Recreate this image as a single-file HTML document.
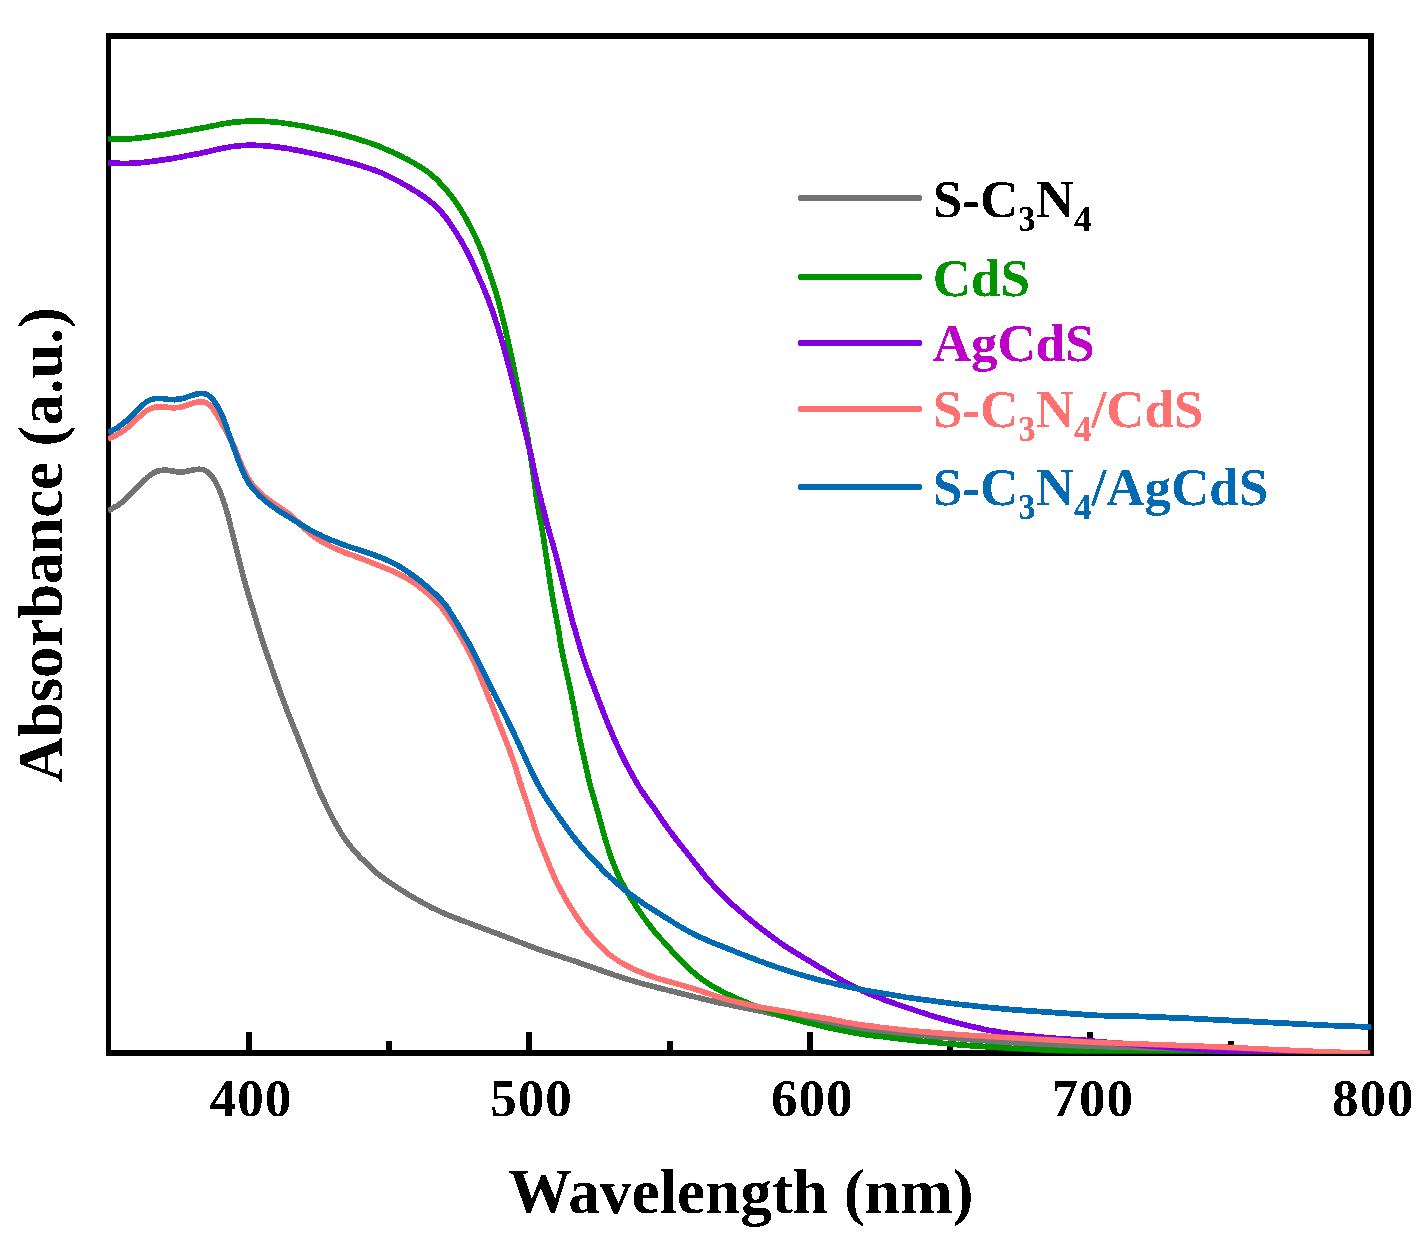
<!DOCTYPE html>
<html><head><meta charset="utf-8"><title>Absorbance</title>
<style>
html,body{margin:0;padding:0;background:#fff;}
body{width:1426px;height:1251px;overflow:hidden;}
svg{display:block;}
text{font-family:"Liberation Serif",serif;font-weight:bold;}
.tl{font-size:53px;letter-spacing:1px;}
.lg{font-size:53px;}
.sub{font-size:35px;}
.ax{font-size:63px;}
</style></head><body>
<svg width="1426" height="1251" viewBox="0 0 1426 1251">
<rect x="0" y="0" width="1426" height="1251" fill="#fff"/>
<defs><clipPath id="pc"><rect x="108" y="36" width="1263.5" height="1017.8"/></clipPath>
<filter id="bin" filterUnits="userSpaceOnUse" x="0" y="0" width="1426" height="1251" color-interpolation-filters="sRGB"><feComponentTransfer><feFuncA type="discrete" tableValues="0 1"/></feComponentTransfer></filter></defs>
<g filter="url(#bin)">
<rect x="106" y="33" width="5" height="1023" fill="#000"/>
<rect x="106" y="33" width="1268" height="6" fill="#000"/>
<rect x="1368" y="33" width="6" height="1023" fill="#000"/>
<rect x="106" y="1050" width="1268" height="6" fill="#000"/>
<rect x="245.8" y="1032" width="6" height="18" fill="#000"/><rect x="526.3" y="1032" width="6" height="18" fill="#000"/><rect x="806.9" y="1032" width="6" height="18" fill="#000"/><rect x="1087.4" y="1032" width="6" height="18" fill="#000"/><rect x="386.1" y="1041" width="6" height="9" fill="#000"/><rect x="666.6" y="1041" width="6" height="9" fill="#000"/><rect x="947.2" y="1041" width="6" height="9" fill="#000"/><rect x="1227.7" y="1041" width="6" height="9" fill="#000"/>
<g clip-path="url(#pc)" fill="none" stroke-width="5.6" stroke-linejoin="round" stroke-linecap="butt">
<path d="M108.0,511.0 C108.4,510.7 109.8,510.0 110.7,509.5 C111.5,509.0 112.4,508.5 113.2,508.0 C114.1,507.5 114.9,507.0 115.8,506.5 C116.6,506.0 117.5,505.5 118.3,504.9 C119.2,504.4 120.0,503.8 120.8,503.2 C121.6,502.6 122.3,501.9 123.0,501.3 C123.8,500.6 124.5,499.9 125.3,499.3 C126.0,498.6 126.7,497.9 127.5,497.2 C128.2,496.5 128.9,495.8 129.6,495.2 C130.4,494.5 131.1,493.8 131.8,493.1 C132.5,492.4 133.2,491.7 133.9,491.0 C134.6,490.3 135.4,489.5 136.1,488.8 C136.8,488.1 137.5,487.4 138.2,486.7 C138.9,486.0 139.6,485.3 140.3,484.6 C141.0,483.9 141.7,483.2 142.4,482.5 C143.1,481.8 143.8,481.1 144.5,480.4 C145.3,479.7 146.0,478.9 146.7,478.3 C147.4,477.6 148.1,476.9 148.9,476.2 C149.6,475.6 150.4,474.9 151.2,474.4 C152.0,473.8 152.8,473.3 153.6,472.8 C154.5,472.3 155.4,471.9 156.3,471.6 C157.2,471.3 158.2,471.0 159.1,470.8 C160.1,470.6 161.0,470.4 162.0,470.3 C163.0,470.3 164.0,470.3 165.0,470.3 C165.9,470.3 166.9,470.4 167.9,470.4 C168.9,470.5 169.9,470.6 170.9,470.7 C171.9,470.9 172.9,471.0 173.9,471.2 C174.8,471.3 175.8,471.5 176.8,471.6 C177.8,471.7 178.8,471.9 179.8,471.9 C180.7,471.9 181.7,471.9 182.7,471.9 C183.7,471.8 184.6,471.6 185.6,471.5 C186.6,471.3 187.5,471.1 188.5,470.9 C189.5,470.7 190.5,470.5 191.5,470.3 C192.4,470.1 193.4,469.9 194.4,469.7 C195.4,469.6 196.4,469.4 197.3,469.4 C198.3,469.3 199.3,469.2 200.2,469.3 C201.2,469.3 202.1,469.4 203.0,469.7 C203.9,469.9 204.8,470.3 205.6,470.7 C206.4,471.1 207.2,471.7 208.0,472.3 C208.7,472.9 209.5,473.5 210.1,474.2 C210.8,474.9 211.4,475.7 212.0,476.5 C212.6,477.3 213.1,478.1 213.7,478.9 C214.2,479.8 214.7,480.6 215.2,481.5 C215.6,482.4 216.1,483.3 216.6,484.1 C217.1,485.0 217.5,485.9 218.0,486.8 C218.4,487.7 218.8,488.6 219.2,489.5 C219.6,490.4 220.0,491.3 220.4,492.3 C220.7,493.2 221.1,494.1 221.4,495.1 C221.7,496.0 222.0,497.0 222.4,497.9 C222.7,498.9 223.0,499.8 223.3,500.8 C223.6,501.7 223.9,502.7 224.3,503.6 C224.6,504.6 224.9,505.5 225.2,506.5 C225.5,507.4 225.8,508.4 226.1,509.3 C226.4,510.3 226.7,511.2 227.0,512.2 C227.3,513.1 227.6,514.1 227.9,515.1 C228.1,516.0 228.4,517.0 228.7,518.0 C228.9,518.9 229.1,519.9 229.4,520.9 C229.6,521.8 229.9,522.8 230.1,523.8 C230.4,524.7 230.6,525.7 230.8,526.7 C231.1,527.7 231.3,528.6 231.6,529.6 C231.8,530.6 232.0,531.5 232.3,532.5 C232.5,533.5 232.8,534.4 233.0,535.4 C233.2,536.4 233.5,537.4 233.7,538.3 C234.0,539.3 234.2,540.3 234.4,541.2 C234.7,542.2 234.9,543.2 235.2,544.2 C235.4,545.1 235.6,546.1 235.9,547.1 C236.1,548.0 236.4,549.0 236.6,550.0 C236.8,551.0 237.1,551.9 237.3,552.9 C237.6,553.9 237.8,554.8 238.1,555.8 C238.3,556.8 238.5,557.7 238.8,558.7 C239.0,559.7 239.3,560.7 239.5,561.6 C239.7,562.6 240.0,563.6 240.2,564.5 C240.5,565.5 240.7,566.5 241.0,567.4 C241.2,568.4 241.4,569.4 241.7,570.4 C241.9,571.3 242.2,572.3 242.4,573.3 C242.7,574.2 242.9,575.2 243.2,576.2 C243.4,577.1 243.7,578.1 243.9,579.1 C244.2,580.0 244.5,581.0 244.7,582.0 C245.0,582.9 245.3,583.9 245.5,584.8 C245.8,585.8 246.1,586.8 246.4,587.7 C246.7,588.7 247.0,589.6 247.2,590.6 C247.5,591.6 247.8,592.5 248.1,593.5 C248.4,594.4 248.7,595.4 249.0,596.4 C249.2,597.3 249.5,598.3 249.8,599.2 C250.1,600.2 250.4,601.1 250.7,602.1 C251.0,603.1 251.3,604.0 251.5,605.0 C251.8,605.9 252.1,606.9 252.4,607.8 C252.7,608.8 253.0,609.8 253.3,610.7 C253.6,611.7 253.8,612.6 254.1,613.6 C254.4,614.5 254.7,615.5 255.0,616.5 C255.3,617.4 255.6,618.4 255.9,619.3 C256.2,620.3 256.4,621.2 256.7,622.2 C257.0,623.2 257.3,624.1 257.6,625.1 C257.9,626.0 258.2,627.0 258.5,627.9 C258.8,628.9 259.1,629.9 259.3,630.8 C259.6,631.8 259.9,632.7 260.2,633.7 C260.5,634.6 260.8,635.6 261.1,636.5 C261.4,637.5 261.7,638.5 262.0,639.4 C262.3,640.4 262.6,641.3 263.0,642.3 C263.3,643.2 263.6,644.2 263.9,645.1 C264.2,646.1 264.5,647.0 264.9,648.0 C265.2,648.9 265.5,649.8 265.8,650.8 C266.1,651.7 266.5,652.7 266.8,653.6 C267.1,654.6 267.5,655.5 267.8,656.5 C268.1,657.4 268.4,658.3 268.8,659.3 C269.1,660.2 269.4,661.2 269.8,662.1 C270.1,663.1 270.4,664.0 270.7,665.0 C271.1,665.9 271.4,666.8 271.7,667.8 C272.1,668.7 272.4,669.7 272.7,670.6 C273.0,671.6 273.4,672.5 273.7,673.5 C274.0,674.4 274.4,675.3 274.7,676.3 C275.0,677.2 275.4,678.2 275.7,679.1 C276.0,680.1 276.3,681.0 276.7,682.0 C277.0,682.9 277.3,683.8 277.7,684.8 C278.0,685.7 278.3,686.7 278.6,687.6 C279.0,688.6 279.3,689.5 279.6,690.5 C280.0,691.4 280.3,692.3 280.6,693.3 C281.0,694.2 281.3,695.2 281.6,696.1 C282.0,697.0 282.3,698.0 282.7,698.9 C283.0,699.9 283.4,700.8 283.7,701.7 C284.1,702.7 284.4,703.6 284.8,704.5 C285.1,705.5 285.5,706.4 285.8,707.3 C286.2,708.3 286.6,709.2 286.9,710.1 C287.3,711.1 287.7,712.0 288.0,712.9 C288.4,713.9 288.8,714.8 289.1,715.7 C289.5,716.6 289.9,717.6 290.3,718.5 C290.6,719.4 291.0,720.4 291.4,721.3 C291.8,722.2 292.1,723.1 292.5,724.1 C292.9,725.0 293.2,725.9 293.6,726.9 C294.0,727.8 294.4,728.7 294.7,729.6 C295.1,730.6 295.5,731.5 295.8,732.4 C296.2,733.4 296.6,734.3 297.0,735.2 C297.3,736.1 297.7,737.1 298.1,738.0 C298.4,738.9 298.8,739.9 299.2,740.8 C299.5,741.7 299.9,742.6 300.3,743.6 C300.7,744.5 301.0,745.4 301.4,746.4 C301.8,747.3 302.1,748.2 302.5,749.1 C302.9,750.1 303.2,751.0 303.6,751.9 C304.0,752.9 304.4,753.8 304.7,754.7 C305.1,755.6 305.5,756.6 305.8,757.5 C306.2,758.4 306.6,759.4 306.9,760.3 C307.3,761.2 307.7,762.1 308.1,763.1 C308.4,764.0 308.8,764.9 309.2,765.9 C309.5,766.8 309.9,767.7 310.3,768.6 C310.7,769.6 311.0,770.5 311.4,771.4 C311.8,772.4 312.2,773.3 312.5,774.2 C312.9,775.1 313.3,776.1 313.6,777.0 C314.0,777.9 314.4,778.9 314.8,779.8 C315.1,780.7 315.5,781.6 315.9,782.6 C316.3,783.5 316.6,784.4 317.0,785.3 C317.4,786.3 317.8,787.2 318.2,788.1 C318.6,789.0 319.0,789.9 319.4,790.9 C319.8,791.8 320.2,792.7 320.6,793.6 C321.0,794.5 321.4,795.4 321.8,796.3 C322.3,797.2 322.7,798.1 323.1,799.0 C323.5,799.9 324.0,800.8 324.4,801.7 C324.9,802.6 325.3,803.5 325.7,804.4 C326.2,805.3 326.6,806.2 327.1,807.1 C327.5,808.0 328.0,808.9 328.4,809.8 C328.9,810.7 329.3,811.6 329.8,812.5 C330.2,813.4 330.7,814.3 331.1,815.2 C331.6,816.0 332.0,816.9 332.5,817.8 C332.9,818.7 333.4,819.6 333.9,820.5 C334.4,821.4 334.8,822.2 335.3,823.1 C335.8,824.0 336.3,824.9 336.8,825.7 C337.3,826.6 337.8,827.5 338.3,828.3 C338.8,829.2 339.3,830.0 339.8,830.9 C340.3,831.8 340.8,832.6 341.4,833.4 C341.9,834.3 342.4,835.1 343.0,836.0 C343.5,836.8 344.1,837.6 344.7,838.4 C345.2,839.3 345.8,840.1 346.4,840.9 C347.0,841.7 347.6,842.5 348.2,843.3 C348.8,844.1 349.4,844.9 350.0,845.7 C350.6,846.4 351.3,847.2 351.9,848.0 C352.5,848.8 353.2,849.5 353.8,850.3 C354.5,851.0 355.1,851.8 355.8,852.5 C356.4,853.3 357.1,854.0 357.8,854.7 C358.5,855.5 359.2,856.2 359.9,856.9 C360.6,857.6 361.3,858.3 362.0,859.0 C362.7,859.7 363.4,860.4 364.1,861.1 C364.8,861.8 365.5,862.5 366.3,863.2 C367.0,863.9 367.7,864.6 368.4,865.3 C369.2,866.0 369.9,866.7 370.6,867.4 C371.3,868.0 372.1,868.7 372.8,869.4 C373.6,870.1 374.3,870.7 375.0,871.4 C375.8,872.0 376.5,872.7 377.3,873.3 C378.1,874.0 378.8,874.6 379.6,875.2 C380.4,875.9 381.2,876.5 382.0,877.1 C382.8,877.7 383.6,878.3 384.4,878.9 C385.2,879.5 386.0,880.0 386.8,880.6 C387.6,881.2 388.5,881.7 389.3,882.3 C390.1,882.8 390.9,883.4 391.8,883.9 C392.6,884.5 393.4,885.0 394.3,885.6 C395.1,886.1 396.0,886.7 396.8,887.2 C397.6,887.7 398.5,888.3 399.3,888.8 C400.2,889.4 401.0,889.9 401.9,890.4 C402.7,890.9 403.6,891.5 404.4,892.0 C405.3,892.5 406.1,893.0 407.0,893.6 C407.8,894.1 408.7,894.6 409.5,895.1 C410.4,895.6 411.3,896.2 412.1,896.7 C413.0,897.2 413.8,897.7 414.7,898.2 C415.6,898.7 416.4,899.2 417.3,899.7 C418.1,900.2 419.0,900.7 419.9,901.2 C420.8,901.7 421.6,902.2 422.5,902.7 C423.4,903.1 424.3,903.6 425.1,904.1 C426.0,904.6 426.9,905.0 427.8,905.5 C428.7,905.9 429.6,906.4 430.5,906.8 C431.3,907.3 432.2,907.7 433.1,908.2 C434.0,908.6 434.9,909.1 435.8,909.5 C436.7,909.9 437.6,910.3 438.6,910.8 C439.5,911.2 440.4,911.6 441.3,912.0 C442.2,912.4 443.1,912.9 444.0,913.3 C444.9,913.7 445.8,914.1 446.8,914.5 C447.7,914.9 448.6,915.2 449.5,915.6 C450.4,916.0 451.4,916.4 452.3,916.7 C453.2,917.1 454.2,917.5 455.1,917.8 C456.0,918.2 456.9,918.6 457.9,918.9 C458.8,919.3 459.7,919.6 460.7,920.0 C461.6,920.3 462.6,920.7 463.5,921.0 C464.4,921.4 465.4,921.7 466.3,922.1 C467.2,922.4 468.2,922.8 469.1,923.1 C470.0,923.5 471.0,923.8 471.9,924.2 C472.9,924.5 473.8,924.9 474.7,925.3 C475.7,925.6 476.6,926.0 477.5,926.3 C478.5,926.7 479.4,927.0 480.3,927.4 C481.3,927.7 482.2,928.1 483.2,928.4 C484.1,928.8 485.0,929.1 486.0,929.5 C486.9,929.8 487.8,930.2 488.8,930.5 C489.7,930.9 490.6,931.2 491.6,931.6 C492.5,931.9 493.5,932.3 494.4,932.6 C495.3,933.0 496.3,933.3 497.2,933.7 C498.1,934.0 499.1,934.4 500.0,934.7 C500.9,935.1 501.9,935.4 502.8,935.8 C503.8,936.1 504.7,936.5 505.6,936.8 C506.6,937.2 507.5,937.5 508.4,937.9 C509.4,938.3 510.3,938.6 511.2,939.0 C512.2,939.3 513.1,939.7 514.0,940.0 C515.0,940.4 515.9,940.7 516.8,941.1 C517.8,941.5 518.7,941.8 519.6,942.2 C520.6,942.5 521.5,942.9 522.4,943.3 C523.4,943.6 524.3,944.0 525.2,944.3 C526.2,944.7 527.1,945.1 528.0,945.4 C529.0,945.8 529.9,946.1 530.8,946.5 C531.8,946.8 532.7,947.2 533.7,947.5 C534.6,947.9 535.5,948.2 536.5,948.6 C537.4,948.9 538.3,949.3 539.3,949.6 C540.2,949.9 541.2,950.2 542.1,950.6 C543.1,950.9 544.0,951.2 545.0,951.5 C545.9,951.8 546.9,952.2 547.8,952.5 C548.8,952.8 549.7,953.1 550.7,953.4 C551.6,953.7 552.6,954.0 553.5,954.3 C554.5,954.6 555.4,954.9 556.4,955.2 C557.3,955.5 558.3,955.8 559.2,956.1 C560.2,956.4 561.1,956.8 562.1,957.1 C563.0,957.4 564.0,957.7 564.9,958.0 C565.9,958.3 566.8,958.6 567.8,958.9 C568.7,959.2 569.7,959.5 570.6,959.8 C571.6,960.2 572.5,960.5 573.5,960.8 C574.4,961.1 575.4,961.4 576.3,961.8 C577.3,962.1 578.2,962.4 579.2,962.7 C580.1,963.1 581.1,963.4 582.0,963.7 C583.0,964.0 583.9,964.4 584.8,964.7 C585.8,965.0 586.7,965.4 587.7,965.7 C588.6,966.0 589.6,966.3 590.5,966.7 C591.4,967.0 592.4,967.3 593.3,967.7 C594.3,968.0 595.2,968.3 596.2,968.7 C597.1,969.0 598.1,969.3 599.0,969.6 C599.9,970.0 600.9,970.3 601.8,970.6 C602.8,971.0 603.7,971.3 604.7,971.6 C605.6,972.0 606.6,972.3 607.5,972.6 C608.4,972.9 609.4,973.3 610.3,973.6 C611.3,973.9 612.2,974.2 613.2,974.6 C614.1,974.9 615.1,975.2 616.0,975.5 C617.0,975.8 617.9,976.2 618.9,976.5 C619.8,976.8 620.8,977.1 621.7,977.4 C622.7,977.7 623.6,978.0 624.6,978.3 C625.5,978.6 626.5,978.9 627.4,979.2 C628.4,979.5 629.3,979.8 630.3,980.1 C631.3,980.4 632.2,980.6 633.2,980.9 C634.1,981.2 635.1,981.5 636.1,981.8 C637.0,982.1 638.0,982.3 638.9,982.6 C639.9,982.9 640.9,983.2 641.8,983.4 C642.8,983.7 643.7,984.0 644.7,984.2 C645.7,984.5 646.6,984.8 647.6,985.0 C648.6,985.3 649.5,985.5 650.5,985.8 C651.5,986.0 652.4,986.3 653.4,986.5 C654.4,986.8 655.3,987.0 656.3,987.3 C657.3,987.5 658.3,987.8 659.2,988.0 C660.2,988.2 661.2,988.5 662.1,988.7 C663.1,989.0 664.1,989.2 665.0,989.5 C666.0,989.7 667.0,989.9 668.0,990.2 C668.9,990.4 669.9,990.7 670.9,990.9 C671.8,991.2 672.8,991.4 673.8,991.6 C674.7,991.9 675.7,992.1 676.7,992.4 C677.7,992.6 678.6,992.9 679.6,993.1 C680.6,993.3 681.5,993.6 682.5,993.8 C683.5,994.1 684.4,994.3 685.4,994.6 C686.4,994.8 687.4,995.0 688.3,995.3 C689.3,995.5 690.3,995.8 691.2,996.0 C692.2,996.3 693.2,996.5 694.2,996.7 C695.1,997.0 696.1,997.2 697.1,997.5 C698.0,997.7 699.0,997.9 700.0,998.2 C700.9,998.4 701.9,998.7 702.9,998.9 C703.9,999.2 704.8,999.4 705.8,999.6 C706.8,999.9 707.7,1000.1 708.7,1000.3 C709.7,1000.6 710.7,1000.8 711.6,1001.0 C712.6,1001.3 713.6,1001.5 714.5,1001.7 C715.5,1001.9 716.5,1002.2 717.5,1002.4 C718.5,1002.6 719.4,1002.8 720.4,1003.0 C721.4,1003.2 722.4,1003.4 723.3,1003.6 C724.3,1003.8 725.3,1004.0 726.3,1004.2 C727.3,1004.4 728.2,1004.6 729.2,1004.8 C730.2,1005.0 731.2,1005.2 732.2,1005.4 C733.1,1005.6 734.1,1005.8 735.1,1006.0 C736.1,1006.2 737.1,1006.4 738.0,1006.6 C739.0,1006.8 740.0,1007.0 741.0,1007.2 C742.0,1007.4 743.0,1007.5 743.9,1007.7 C744.9,1007.9 745.9,1008.1 746.9,1008.3 C747.9,1008.5 748.8,1008.7 749.8,1008.9 C750.8,1009.1 751.8,1009.3 752.8,1009.5 C753.7,1009.7 754.7,1009.9 755.7,1010.1 C756.7,1010.3 757.7,1010.5 758.6,1010.7 C759.6,1010.9 760.6,1011.1 761.6,1011.3 C762.5,1011.5 763.5,1011.8 764.5,1012.0 C765.5,1012.2 766.4,1012.4 767.4,1012.7 C768.4,1012.9 769.4,1013.1 770.3,1013.4 C771.3,1013.6 772.3,1013.8 773.3,1014.1 C774.2,1014.3 775.2,1014.5 776.2,1014.7 C777.1,1015.0 778.1,1015.2 779.1,1015.4 C780.1,1015.6 781.0,1015.9 782.0,1016.1 C783.0,1016.3 784.0,1016.5 785.0,1016.7 C785.9,1016.9 786.9,1017.1 787.9,1017.3 C788.9,1017.5 789.9,1017.7 790.8,1017.9 C791.8,1018.0 792.8,1018.2 793.8,1018.4 C794.8,1018.6 795.8,1018.8 796.7,1018.9 C797.7,1019.1 798.7,1019.3 799.7,1019.5 C800.7,1019.6 801.7,1019.8 802.6,1020.0 C803.6,1020.2 804.6,1020.3 805.6,1020.5 C806.6,1020.7 807.6,1020.8 808.6,1021.0 C809.5,1021.2 810.5,1021.4 811.5,1021.5 C812.5,1021.7 813.5,1021.9 814.5,1022.0 C815.5,1022.2 816.4,1022.4 817.4,1022.5 C818.4,1022.7 819.4,1022.9 820.4,1023.0 C821.4,1023.2 822.4,1023.4 823.3,1023.5 C824.3,1023.7 825.3,1023.9 826.3,1024.0 C827.3,1024.2 828.3,1024.4 829.3,1024.5 C830.2,1024.7 831.2,1024.8 832.2,1025.0 C833.2,1025.1 834.2,1025.3 835.2,1025.4 C836.2,1025.6 837.2,1025.7 838.2,1025.9 C839.1,1026.0 840.1,1026.2 841.1,1026.3 C842.1,1026.4 843.1,1026.6 844.1,1026.7 C845.1,1026.9 846.1,1027.0 847.1,1027.1 C848.1,1027.3 849.0,1027.4 850.0,1027.6 C851.0,1027.7 852.0,1027.8 853.0,1028.0 C854.0,1028.1 855.0,1028.2 856.0,1028.4 C857.0,1028.5 858.0,1028.6 859.0,1028.7 C859.9,1028.9 860.9,1029.0 861.9,1029.1 C862.9,1029.2 863.9,1029.3 864.9,1029.4 C865.9,1029.6 866.9,1029.7 867.9,1029.8 C868.9,1029.9 869.9,1030.0 870.9,1030.1 C871.9,1030.2 872.9,1030.3 873.9,1030.4 C874.9,1030.5 875.9,1030.6 876.8,1030.7 C877.8,1030.8 878.8,1030.9 879.8,1031.0 C880.8,1031.1 881.8,1031.2 882.8,1031.3 C883.8,1031.4 884.8,1031.5 885.8,1031.6 C886.8,1031.7 887.8,1031.8 888.8,1031.9 C889.8,1032.0 890.8,1032.1 891.8,1032.2 C892.8,1032.3 893.8,1032.4 894.8,1032.5 C895.8,1032.6 896.7,1032.7 897.7,1032.8 C898.7,1032.9 899.7,1033.0 900.7,1033.1 C901.7,1033.2 902.7,1033.3 903.7,1033.4 C904.7,1033.5 905.7,1033.6 906.7,1033.7 C907.7,1033.8 908.7,1033.9 909.7,1034.0 C910.7,1034.1 911.7,1034.2 912.7,1034.3 C913.7,1034.4 914.7,1034.5 915.7,1034.6 C916.7,1034.7 917.6,1034.8 918.6,1034.9 C919.6,1034.9 920.6,1035.0 921.6,1035.1 C922.6,1035.2 923.6,1035.3 924.6,1035.4 C925.6,1035.5 926.6,1035.6 927.6,1035.7 C928.6,1035.8 929.6,1035.9 930.6,1036.0 C931.6,1036.1 932.6,1036.2 933.6,1036.2 C934.6,1036.3 935.6,1036.4 936.6,1036.5 C937.6,1036.6 938.6,1036.7 939.6,1036.8 C940.5,1036.9 941.5,1037.0 942.5,1037.1 C943.5,1037.2 944.5,1037.3 945.5,1037.4 C946.5,1037.5 947.5,1037.5 948.5,1037.6 C949.5,1037.7 950.5,1037.8 951.5,1037.9 C952.5,1038.0 953.5,1038.1 954.5,1038.2 C955.5,1038.3 956.5,1038.4 957.5,1038.4 C958.5,1038.5 959.5,1038.6 960.5,1038.7 C961.5,1038.8 962.5,1038.9 963.5,1038.9 C964.5,1039.0 965.4,1039.1 966.4,1039.2 C967.4,1039.3 968.4,1039.3 969.4,1039.4 C970.4,1039.5 971.4,1039.6 972.4,1039.6 C973.4,1039.7 974.4,1039.8 975.4,1039.9 C976.4,1039.9 977.4,1040.0 978.4,1040.1 C979.4,1040.1 980.4,1040.2 981.4,1040.3 C982.4,1040.4 983.4,1040.4 984.4,1040.5 C985.4,1040.6 986.4,1040.7 987.4,1040.7 C988.4,1040.8 989.4,1040.9 990.4,1041.0 C991.4,1041.0 992.4,1041.1 993.4,1041.2 C994.4,1041.2 995.4,1041.3 996.4,1041.4 C997.4,1041.5 998.4,1041.5 999.4,1041.6 C1000.4,1041.7 1001.4,1041.7 1002.3,1041.8 C1003.3,1041.9 1004.3,1042.0 1005.3,1042.0 C1006.3,1042.1 1007.3,1042.2 1008.3,1042.2 C1009.3,1042.3 1010.3,1042.4 1011.3,1042.4 C1012.3,1042.5 1013.3,1042.5 1014.3,1042.6 C1015.3,1042.7 1016.3,1042.7 1017.3,1042.8 C1018.3,1042.8 1019.3,1042.9 1020.3,1042.9 C1021.3,1043.0 1022.3,1043.0 1023.3,1043.1 C1024.3,1043.1 1025.3,1043.2 1026.3,1043.2 C1027.3,1043.3 1028.3,1043.3 1029.3,1043.4 C1030.3,1043.4 1031.3,1043.5 1032.3,1043.5 C1033.3,1043.6 1034.3,1043.6 1035.3,1043.7 C1036.3,1043.7 1037.3,1043.8 1038.3,1043.8 C1039.3,1043.9 1040.3,1043.9 1041.3,1044.0 C1042.3,1044.0 1043.3,1044.1 1044.3,1044.1 C1045.3,1044.2 1046.3,1044.2 1047.3,1044.3 C1048.3,1044.3 1049.3,1044.4 1050.3,1044.4 C1051.3,1044.5 1052.3,1044.5 1053.3,1044.6 C1054.3,1044.6 1055.3,1044.7 1056.3,1044.7 C1057.3,1044.8 1058.3,1044.8 1059.3,1044.9 C1060.3,1044.9 1061.3,1045.0 1062.3,1045.0 C1063.3,1045.0 1064.3,1045.1 1065.3,1045.1 C1066.3,1045.2 1067.3,1045.2 1068.3,1045.3 C1069.3,1045.3 1070.3,1045.4 1071.3,1045.4 C1072.2,1045.5 1073.2,1045.5 1074.2,1045.6 C1075.2,1045.6 1076.2,1045.7 1077.2,1045.7 C1078.2,1045.7 1079.2,1045.8 1080.2,1045.8 C1081.2,1045.9 1082.2,1045.9 1083.2,1046.0 C1084.2,1046.0 1085.2,1046.1 1086.2,1046.1 C1087.2,1046.2 1088.2,1046.2 1089.2,1046.2 C1090.2,1046.3 1091.2,1046.3 1092.2,1046.4 C1093.2,1046.4 1094.2,1046.5 1095.2,1046.5 C1096.2,1046.6 1097.2,1046.6 1098.2,1046.6 C1099.2,1046.7 1100.2,1046.7 1101.2,1046.8 C1102.2,1046.8 1103.2,1046.8 1104.2,1046.9 C1105.2,1046.9 1106.2,1047.0 1107.2,1047.0 C1108.2,1047.0 1109.2,1047.1 1110.2,1047.1 C1111.2,1047.1 1112.2,1047.2 1113.2,1047.2 C1114.2,1047.2 1115.2,1047.3 1116.2,1047.3 C1117.2,1047.4 1118.2,1047.4 1119.2,1047.4 C1120.2,1047.5 1121.2,1047.5 1122.2,1047.5 C1123.2,1047.6 1124.2,1047.6 1125.2,1047.6 C1126.2,1047.7 1127.2,1047.7 1128.2,1047.7 C1129.2,1047.8 1130.2,1047.8 1131.2,1047.9 C1132.2,1047.9 1133.2,1047.9 1134.2,1048.0 C1135.2,1048.0 1136.2,1048.0 1137.2,1048.1 C1138.2,1048.1 1139.2,1048.1 1140.2,1048.2 C1141.2,1048.2 1142.2,1048.2 1143.2,1048.2 C1144.2,1048.3 1145.2,1048.3 1146.2,1048.3 C1147.2,1048.4 1148.2,1048.4 1149.2,1048.4 C1150.2,1048.5 1151.2,1048.5 1152.2,1048.5 C1153.2,1048.6 1154.2,1048.6 1155.2,1048.6 C1156.2,1048.7 1157.2,1048.7 1158.2,1048.7 C1159.2,1048.7 1160.2,1048.8 1161.2,1048.8 C1162.2,1048.8 1163.2,1048.9 1164.2,1048.9 C1165.2,1048.9 1166.2,1049.0 1167.2,1049.0 C1168.2,1049.0 1169.2,1049.1 1170.2,1049.1 C1171.2,1049.1 1172.2,1049.1 1173.2,1049.2 C1174.2,1049.2 1175.2,1049.2 1176.2,1049.3 C1177.2,1049.3 1178.2,1049.3 1179.2,1049.4 C1180.2,1049.4 1181.2,1049.4 1182.2,1049.5 C1183.2,1049.5 1184.2,1049.5 1185.2,1049.5 C1186.2,1049.6 1187.2,1049.6 1188.2,1049.6 C1189.2,1049.7 1190.2,1049.7 1191.2,1049.7 C1192.2,1049.8 1193.2,1049.8 1194.2,1049.8 C1195.2,1049.8 1196.2,1049.9 1197.2,1049.9 C1198.2,1049.9 1199.2,1050.0 1200.2,1050.0 C1201.2,1050.0 1202.2,1050.0 1203.2,1050.1 C1204.2,1050.1 1205.2,1050.1 1206.2,1050.1 C1207.2,1050.2 1208.2,1050.2 1209.2,1050.2 C1210.2,1050.2 1211.2,1050.3 1212.2,1050.3 C1213.2,1050.3 1214.2,1050.3 1215.2,1050.4 C1216.2,1050.4 1217.2,1050.4 1218.2,1050.4 C1219.2,1050.4 1220.2,1050.5 1221.2,1050.5 C1222.2,1050.5 1223.2,1050.5 1224.2,1050.6 C1225.2,1050.6 1226.2,1050.6 1227.2,1050.6 C1228.2,1050.7 1229.2,1050.7 1230.2,1050.7 C1231.2,1050.7 1232.2,1050.8 1233.2,1050.8 C1234.2,1050.8 1235.2,1050.8 1236.2,1050.8 C1237.2,1050.9 1238.2,1050.9 1239.2,1050.9 C1240.2,1050.9 1241.2,1051.0 1242.2,1051.0 C1243.2,1051.0 1244.2,1051.0 1245.2,1051.1 C1246.2,1051.1 1247.2,1051.1 1248.2,1051.1 C1249.2,1051.1 1250.2,1051.2 1251.2,1051.2 C1252.2,1051.2 1253.2,1051.2 1254.2,1051.3 C1255.2,1051.3 1256.2,1051.3 1257.2,1051.3 C1258.2,1051.4 1259.2,1051.4 1260.2,1051.4 C1261.2,1051.4 1262.2,1051.5 1263.1,1051.5 C1264.1,1051.5 1265.1,1051.5 1266.1,1051.5 C1267.1,1051.6 1268.1,1051.6 1269.1,1051.6 C1270.1,1051.6 1271.1,1051.7 1272.1,1051.7 C1273.1,1051.7 1274.1,1051.7 1275.1,1051.8 C1276.1,1051.8 1277.1,1051.8 1278.1,1051.8 C1279.1,1051.9 1280.1,1051.9 1281.1,1051.9 C1282.1,1051.9 1283.1,1051.9 1284.1,1052.0 C1285.1,1052.0 1286.1,1052.0 1287.1,1052.0 C1288.1,1052.1 1289.1,1052.1 1290.1,1052.1 C1291.1,1052.1 1292.1,1052.2 1293.1,1052.2 C1294.1,1052.2 1295.1,1052.2 1296.1,1052.2 C1297.1,1052.3 1298.1,1052.3 1299.1,1052.3 C1300.1,1052.3 1301.1,1052.4 1302.1,1052.4 C1303.1,1052.4 1304.1,1052.4 1305.1,1052.5 C1306.1,1052.5 1307.1,1052.5 1308.1,1052.5 C1309.1,1052.6 1310.1,1052.6 1311.1,1052.6 C1312.1,1052.6 1313.1,1052.6 1314.1,1052.7 C1315.1,1052.7 1316.1,1052.7 1317.1,1052.7 C1318.1,1052.8 1319.1,1052.8 1320.1,1052.8 C1321.1,1052.8 1322.1,1052.9 1323.1,1052.9 C1324.1,1052.9 1325.1,1052.9 1326.1,1053.0 C1327.1,1053.0 1328.1,1053.0 1329.1,1053.0 C1330.1,1053.0 1331.1,1053.1 1332.1,1053.1 C1333.1,1053.1 1334.1,1053.1 1335.1,1053.2 C1336.1,1053.2 1337.1,1053.2 1338.1,1053.2 C1339.1,1053.3 1340.1,1053.3 1341.1,1053.3 C1342.1,1053.3 1343.1,1053.3 1344.1,1053.4 C1345.1,1053.4 1346.1,1053.4 1347.1,1053.4 C1348.1,1053.5 1349.1,1053.5 1350.1,1053.5 C1351.1,1053.5 1352.1,1053.6 1353.1,1053.6 C1354.1,1053.6 1355.1,1053.6 1356.0,1053.7 C1357.0,1053.7 1358.0,1053.7 1359.0,1053.7 C1360.0,1053.7 1360.9,1053.8 1361.9,1053.8 C1362.9,1053.8 1363.8,1053.8 1364.9,1053.9 C1365.9,1053.9 1367.1,1053.9 1367.9,1053.9 C1368.8,1053.9 1369.8,1054.0 1370.1,1054.0" stroke="#737373"/>
<path d="M108.0,139.0 C108.5,139.0 110.2,139.1 111.2,139.1 C112.3,139.1 113.3,139.1 114.3,139.1 C115.3,139.2 116.2,139.2 117.2,139.2 C118.2,139.2 119.1,139.2 120.1,139.2 C121.1,139.2 122.1,139.1 123.0,139.1 C124.0,139.0 125.0,139.0 126.0,138.9 C127.0,138.9 128.0,138.8 129.0,138.8 C130.0,138.7 131.0,138.6 132.0,138.6 C133.0,138.5 134.0,138.4 135.0,138.3 C136.0,138.3 136.9,138.2 137.9,138.1 C138.9,138.0 139.9,137.9 140.9,137.8 C141.9,137.6 142.9,137.5 143.9,137.4 C144.9,137.3 145.9,137.2 146.9,137.0 C147.9,136.9 148.9,136.8 149.9,136.6 C150.8,136.5 151.8,136.4 152.8,136.2 C153.8,136.1 154.8,135.9 155.8,135.8 C156.8,135.7 157.8,135.5 158.8,135.4 C159.7,135.2 160.7,135.1 161.7,134.9 C162.7,134.8 163.7,134.6 164.7,134.5 C165.7,134.3 166.7,134.2 167.7,134.0 C168.6,133.8 169.6,133.7 170.6,133.5 C171.6,133.4 172.6,133.2 173.6,133.0 C174.6,132.9 175.5,132.7 176.5,132.5 C177.5,132.4 178.5,132.2 179.5,132.0 C180.5,131.9 181.5,131.7 182.4,131.5 C183.4,131.3 184.4,131.2 185.4,131.0 C186.4,130.8 187.4,130.6 188.4,130.5 C189.3,130.3 190.3,130.1 191.3,130.0 C192.3,129.8 193.3,129.6 194.3,129.4 C195.2,129.2 196.2,129.1 197.2,128.9 C198.2,128.7 199.2,128.5 200.2,128.4 C201.1,128.2 202.1,128.0 203.1,127.8 C204.1,127.6 205.1,127.4 206.1,127.2 C207.0,127.1 208.0,126.9 209.0,126.7 C210.0,126.5 211.0,126.3 211.9,126.1 C212.9,125.9 213.9,125.7 214.9,125.5 C215.9,125.3 216.8,125.1 217.8,124.9 C218.8,124.7 219.8,124.5 220.8,124.3 C221.7,124.1 222.7,123.9 223.7,123.7 C224.7,123.6 225.7,123.4 226.7,123.2 C227.6,123.1 228.6,122.9 229.6,122.8 C230.6,122.6 231.6,122.5 232.6,122.4 C233.6,122.3 234.6,122.2 235.5,122.1 C236.5,122.0 237.5,121.9 238.5,121.8 C239.5,121.7 240.5,121.7 241.5,121.6 C242.5,121.5 243.5,121.5 244.5,121.4 C245.5,121.4 246.5,121.3 247.5,121.3 C248.5,121.3 249.5,121.3 250.5,121.2 C251.5,121.2 252.5,121.2 253.5,121.2 C254.5,121.2 255.5,121.2 256.5,121.2 C257.5,121.2 258.5,121.2 259.5,121.2 C260.5,121.2 261.5,121.2 262.5,121.3 C263.5,121.3 264.5,121.3 265.5,121.4 C266.5,121.4 267.5,121.5 268.5,121.5 C269.5,121.6 270.5,121.6 271.5,121.7 C272.5,121.8 273.5,121.8 274.5,121.9 C275.5,122.0 276.4,122.1 277.4,122.2 C278.4,122.3 279.4,122.4 280.4,122.6 C281.4,122.7 282.4,122.8 283.4,122.9 C284.4,123.1 285.4,123.2 286.4,123.4 C287.3,123.5 288.3,123.6 289.3,123.8 C290.3,123.9 291.3,124.1 292.3,124.3 C293.3,124.4 294.3,124.6 295.2,124.7 C296.2,124.9 297.2,125.1 298.2,125.3 C299.2,125.4 300.2,125.6 301.2,125.8 C302.1,126.0 303.1,126.2 304.1,126.3 C305.1,126.5 306.1,126.7 307.0,126.9 C308.0,127.1 309.0,127.3 310.0,127.5 C311.0,127.7 311.9,127.9 312.9,128.1 C313.9,128.3 314.9,128.5 315.9,128.7 C316.8,128.9 317.8,129.1 318.8,129.3 C319.8,129.6 320.8,129.8 321.7,130.0 C322.7,130.2 323.7,130.4 324.7,130.6 C325.6,130.8 326.6,131.0 327.6,131.2 C328.6,131.4 329.6,131.6 330.5,131.8 C331.5,132.1 332.5,132.3 333.5,132.5 C334.4,132.7 335.4,132.9 336.4,133.2 C337.4,133.4 338.3,133.6 339.3,133.9 C340.3,134.1 341.2,134.3 342.2,134.6 C343.2,134.8 344.1,135.1 345.1,135.3 C346.1,135.6 347.0,135.9 348.0,136.1 C349.0,136.4 349.9,136.7 350.9,137.0 C351.8,137.2 352.8,137.5 353.8,137.8 C354.7,138.1 355.7,138.4 356.6,138.7 C357.6,138.9 358.5,139.2 359.5,139.5 C360.5,139.8 361.4,140.1 362.4,140.5 C363.3,140.8 364.3,141.1 365.2,141.4 C366.2,141.7 367.1,142.0 368.0,142.4 C369.0,142.7 369.9,143.0 370.9,143.4 C371.8,143.7 372.8,144.0 373.7,144.4 C374.6,144.7 375.6,145.1 376.5,145.4 C377.4,145.8 378.4,146.1 379.3,146.5 C380.2,146.9 381.1,147.3 382.1,147.6 C383.0,148.0 383.9,148.4 384.8,148.8 C385.8,149.2 386.7,149.6 387.6,150.0 C388.5,150.4 389.4,150.8 390.3,151.2 C391.2,151.6 392.2,152.0 393.1,152.4 C394.0,152.9 394.9,153.3 395.8,153.7 C396.7,154.1 397.6,154.6 398.5,155.0 C399.4,155.4 400.3,155.9 401.2,156.3 C402.1,156.8 403.0,157.2 403.9,157.7 C404.7,158.1 405.6,158.6 406.5,159.0 C407.4,159.5 408.3,160.0 409.2,160.5 C410.0,160.9 410.9,161.4 411.8,161.9 C412.7,162.4 413.5,162.9 414.4,163.4 C415.2,163.9 416.1,164.4 417.0,164.9 C417.8,165.4 418.7,165.9 419.5,166.5 C420.4,167.0 421.2,167.5 422.0,168.1 C422.9,168.6 423.7,169.2 424.5,169.7 C425.4,170.3 426.2,170.9 427.0,171.5 C427.8,172.0 428.6,172.6 429.4,173.2 C430.1,173.9 430.9,174.5 431.7,175.1 C432.4,175.8 433.2,176.4 433.9,177.1 C434.7,177.7 435.4,178.4 436.1,179.1 C436.8,179.8 437.5,180.5 438.3,181.2 C439.0,181.9 439.6,182.6 440.3,183.3 C441.0,184.1 441.7,184.8 442.4,185.5 C443.1,186.3 443.7,187.0 444.4,187.7 C445.1,188.5 445.7,189.2 446.4,190.0 C447.0,190.8 447.7,191.5 448.3,192.3 C448.9,193.1 449.6,193.8 450.2,194.6 C450.8,195.4 451.4,196.2 452.0,197.0 C452.6,197.8 453.2,198.6 453.8,199.4 C454.4,200.2 455.0,201.0 455.5,201.8 C456.1,202.6 456.7,203.5 457.2,204.3 C457.8,205.1 458.3,206.0 458.9,206.8 C459.4,207.7 459.9,208.5 460.5,209.3 C461.0,210.2 461.5,211.0 462.0,211.9 C462.5,212.8 463.0,213.6 463.6,214.5 C464.1,215.3 464.6,216.2 465.1,217.1 C465.6,217.9 466.0,218.8 466.5,219.7 C467.0,220.5 467.5,221.4 468.0,222.3 C468.5,223.2 468.9,224.1 469.4,224.9 C469.9,225.8 470.3,226.7 470.8,227.6 C471.2,228.5 471.7,229.4 472.2,230.3 C472.6,231.2 473.0,232.1 473.5,233.0 C473.9,233.9 474.4,234.8 474.8,235.7 C475.2,236.6 475.7,237.5 476.1,238.4 C476.5,239.3 476.9,240.2 477.3,241.1 C477.8,242.0 478.2,242.9 478.6,243.8 C479.0,244.7 479.4,245.7 479.7,246.6 C480.1,247.5 480.5,248.4 480.9,249.3 C481.3,250.3 481.6,251.2 482.0,252.1 C482.4,253.1 482.7,254.0 483.1,254.9 C483.4,255.9 483.8,256.8 484.1,257.7 C484.5,258.7 484.8,259.6 485.2,260.5 C485.5,261.5 485.9,262.4 486.2,263.4 C486.5,264.3 486.9,265.3 487.2,266.2 C487.5,267.1 487.9,268.1 488.2,269.0 C488.5,270.0 488.9,270.9 489.2,271.9 C489.5,272.8 489.8,273.8 490.2,274.7 C490.5,275.6 490.8,276.6 491.1,277.5 C491.4,278.5 491.7,279.4 492.1,280.4 C492.4,281.3 492.7,282.3 493.0,283.2 C493.3,284.2 493.6,285.1 493.9,286.1 C494.2,287.0 494.5,288.0 494.8,288.9 C495.1,289.9 495.4,290.9 495.7,291.8 C496.0,292.8 496.3,293.7 496.5,294.7 C496.8,295.7 497.1,296.6 497.4,297.6 C497.6,298.5 497.9,299.5 498.2,300.5 C498.4,301.4 498.7,302.4 499.0,303.4 C499.2,304.3 499.5,305.3 499.7,306.3 C500.0,307.2 500.2,308.2 500.5,309.2 C500.7,310.1 501.0,311.1 501.2,312.1 C501.5,313.0 501.7,314.0 502.0,315.0 C502.2,315.9 502.5,316.9 502.7,317.9 C502.9,318.9 503.2,319.8 503.4,320.8 C503.6,321.8 503.9,322.7 504.1,323.7 C504.3,324.7 504.6,325.7 504.8,326.6 C505.0,327.6 505.2,328.6 505.5,329.6 C505.7,330.5 505.9,331.5 506.1,332.5 C506.4,333.5 506.6,334.4 506.8,335.4 C507.0,336.4 507.2,337.4 507.5,338.3 C507.7,339.3 507.9,340.3 508.1,341.3 C508.3,342.2 508.5,343.2 508.8,344.2 C509.0,345.2 509.2,346.1 509.4,347.1 C509.6,348.1 509.8,349.1 510.0,350.1 C510.3,351.0 510.5,352.0 510.7,353.0 C510.9,354.0 511.1,354.9 511.3,355.9 C511.5,356.9 511.7,357.9 512.0,358.8 C512.2,359.8 512.4,360.8 512.6,361.8 C512.8,362.8 513.0,363.7 513.2,364.7 C513.4,365.7 513.6,366.7 513.8,367.7 C514.0,368.6 514.2,369.6 514.4,370.6 C514.6,371.6 514.8,372.5 515.0,373.5 C515.2,374.5 515.4,375.5 515.6,376.5 C515.8,377.4 516.0,378.4 516.2,379.4 C516.4,380.4 516.6,381.4 516.8,382.3 C517.0,383.3 517.2,384.3 517.4,385.3 C517.6,386.3 517.8,387.2 518.0,388.2 C518.2,389.2 518.4,390.2 518.6,391.2 C518.8,392.1 519.0,393.1 519.2,394.1 C519.4,395.1 519.6,396.1 519.8,397.1 C520.0,398.0 520.2,399.0 520.3,400.0 C520.5,401.0 520.7,402.0 520.9,402.9 C521.1,403.9 521.3,404.9 521.5,405.9 C521.7,406.9 521.9,407.8 522.1,408.8 C522.3,409.8 522.5,410.8 522.7,411.8 C522.9,412.8 523.1,413.7 523.3,414.7 C523.4,415.7 523.6,416.7 523.8,417.7 C524.0,418.6 524.2,419.6 524.4,420.6 C524.6,421.6 524.8,422.6 525.0,423.5 C525.2,424.5 525.4,425.5 525.6,426.5 C525.8,427.5 526.0,428.5 526.1,429.4 C526.3,430.4 526.5,431.4 526.7,432.4 C526.9,433.4 527.1,434.3 527.2,435.3 C527.4,436.3 527.6,437.3 527.7,438.3 C527.9,439.3 528.1,440.3 528.2,441.2 C528.4,442.2 528.5,443.2 528.7,444.2 C528.9,445.2 529.0,446.2 529.2,447.2 C529.3,448.2 529.5,449.1 529.6,450.1 C529.8,451.1 529.9,452.1 530.1,453.1 C530.2,454.1 530.4,455.1 530.5,456.1 C530.7,457.1 530.8,458.0 531.0,459.0 C531.1,460.0 531.3,461.0 531.4,462.0 C531.5,463.0 531.7,464.0 531.8,465.0 C532.0,466.0 532.1,466.9 532.3,467.9 C532.4,468.9 532.6,469.9 532.7,470.9 C532.9,471.9 533.0,472.9 533.2,473.9 C533.3,474.9 533.5,475.9 533.6,476.8 C533.8,477.8 533.9,478.8 534.0,479.8 C534.2,480.8 534.3,481.8 534.5,482.8 C534.6,483.8 534.7,484.8 534.9,485.8 C535.0,486.7 535.1,487.7 535.3,488.7 C535.4,489.7 535.5,490.7 535.7,491.7 C535.8,492.7 535.9,493.7 536.1,494.7 C536.2,495.7 536.3,496.7 536.5,497.6 C536.6,498.6 536.8,499.6 536.9,500.6 C537.1,501.6 537.2,502.6 537.4,503.6 C537.5,504.6 537.7,505.5 537.9,506.5 C538.0,507.5 538.2,508.5 538.4,509.5 C538.6,510.5 538.7,511.4 538.9,512.4 C539.1,513.4 539.3,514.4 539.5,515.4 C539.7,516.4 539.9,517.3 540.1,518.3 C540.2,519.3 540.4,520.3 540.6,521.3 C540.8,522.2 541.0,523.2 541.2,524.2 C541.3,525.2 541.5,526.2 541.7,527.2 C541.9,528.2 542.0,529.1 542.2,530.1 C542.4,531.1 542.5,532.1 542.7,533.1 C542.9,534.1 543.0,535.1 543.2,536.0 C543.3,537.0 543.5,538.0 543.6,539.0 C543.8,540.0 543.9,541.0 544.1,542.0 C544.2,543.0 544.4,543.9 544.5,544.9 C544.7,545.9 544.8,546.9 545.0,547.9 C545.1,548.9 545.3,549.9 545.4,550.9 C545.6,551.9 545.7,552.8 545.9,553.8 C546.0,554.8 546.2,555.8 546.3,556.8 C546.5,557.8 546.6,558.8 546.8,559.8 C546.9,560.8 547.1,561.7 547.2,562.7 C547.4,563.7 547.5,564.7 547.7,565.7 C547.8,566.7 548.0,567.7 548.1,568.7 C548.2,569.7 548.4,570.6 548.5,571.6 C548.7,572.6 548.8,573.6 549.0,574.6 C549.1,575.6 549.3,576.6 549.4,577.6 C549.6,578.6 549.7,579.6 549.9,580.5 C550.0,581.5 550.2,582.5 550.3,583.5 C550.5,584.5 550.6,585.5 550.8,586.5 C550.9,587.5 551.1,588.4 551.2,589.4 C551.4,590.4 551.5,591.4 551.7,592.4 C551.9,593.4 552.0,594.4 552.2,595.4 C552.3,596.3 552.5,597.3 552.7,598.3 C552.8,599.3 553.0,600.3 553.2,601.3 C553.4,602.3 553.5,603.2 553.7,604.2 C553.9,605.2 554.1,606.2 554.3,607.2 C554.5,608.2 554.6,609.1 554.8,610.1 C555.0,611.1 555.2,612.1 555.4,613.1 C555.6,614.0 555.8,615.0 556.0,616.0 C556.2,617.0 556.3,618.0 556.5,619.0 C556.7,619.9 556.9,620.9 557.1,621.9 C557.2,622.9 557.4,623.9 557.6,624.9 C557.8,625.8 557.9,626.8 558.1,627.8 C558.3,628.8 558.4,629.8 558.6,630.8 C558.7,631.8 558.9,632.8 559.0,633.7 C559.2,634.7 559.4,635.7 559.5,636.7 C559.7,637.7 559.8,638.7 560.0,639.7 C560.1,640.7 560.3,641.6 560.5,642.6 C560.6,643.6 560.8,644.6 561.0,645.6 C561.1,646.6 561.3,647.5 561.5,648.5 C561.7,649.5 561.9,650.5 562.1,651.5 C562.3,652.5 562.5,653.4 562.7,654.4 C562.9,655.4 563.1,656.4 563.3,657.4 C563.5,658.3 563.7,659.3 563.9,660.3 C564.1,661.3 564.3,662.2 564.6,663.2 C564.8,664.2 565.0,665.2 565.2,666.1 C565.4,667.1 565.6,668.1 565.9,669.1 C566.1,670.0 566.3,671.0 566.5,672.0 C566.7,673.0 567.0,673.9 567.2,674.9 C567.4,675.9 567.6,676.9 567.8,677.9 C568.0,678.8 568.3,679.8 568.5,680.8 C568.7,681.8 568.9,682.7 569.1,683.7 C569.3,684.7 569.5,685.7 569.7,686.6 C569.9,687.6 570.1,688.6 570.4,689.6 C570.6,690.6 570.8,691.5 571.0,692.5 C571.2,693.5 571.4,694.5 571.6,695.5 C571.7,696.4 571.9,697.4 572.1,698.4 C572.3,699.4 572.5,700.4 572.7,701.3 C572.9,702.3 573.1,703.3 573.3,704.3 C573.5,705.3 573.7,706.3 573.9,707.2 C574.1,708.2 574.3,709.2 574.4,710.2 C574.6,711.2 574.8,712.1 575.0,713.1 C575.2,714.1 575.4,715.1 575.5,716.1 C575.7,717.1 575.9,718.0 576.1,719.0 C576.2,720.0 576.4,721.0 576.6,722.0 C576.8,723.0 577.0,723.9 577.1,724.9 C577.3,725.9 577.5,726.9 577.7,727.9 C577.8,728.9 578.0,729.9 578.2,730.8 C578.4,731.8 578.6,732.8 578.8,733.8 C579.0,734.8 579.2,735.7 579.3,736.7 C579.5,737.7 579.7,738.7 579.9,739.7 C580.1,740.6 580.4,741.6 580.6,742.6 C580.8,743.6 581.0,744.6 581.2,745.5 C581.4,746.5 581.6,747.5 581.8,748.5 C582.0,749.4 582.3,750.4 582.5,751.4 C582.7,752.4 582.9,753.3 583.1,754.3 C583.3,755.3 583.6,756.3 583.8,757.2 C584.0,758.2 584.2,759.2 584.4,760.2 C584.7,761.2 584.9,762.1 585.1,763.1 C585.3,764.1 585.5,765.1 585.8,766.0 C586.0,767.0 586.2,768.0 586.4,769.0 C586.6,769.9 586.9,770.9 587.1,771.9 C587.3,772.9 587.5,773.8 587.7,774.8 C588.0,775.8 588.2,776.8 588.4,777.7 C588.6,778.7 588.9,779.7 589.1,780.6 C589.3,781.6 589.6,782.6 589.8,783.6 C590.1,784.5 590.3,785.5 590.6,786.5 C590.8,787.4 591.1,788.4 591.3,789.4 C591.6,790.3 591.8,791.3 592.1,792.3 C592.4,793.2 592.7,794.2 592.9,795.1 C593.2,796.1 593.5,797.1 593.8,798.0 C594.0,799.0 594.3,799.9 594.6,800.9 C594.9,801.9 595.2,802.8 595.5,803.8 C595.7,804.7 596.0,805.7 596.3,806.7 C596.6,807.6 596.9,808.6 597.1,809.5 C597.4,810.5 597.7,811.5 598.0,812.4 C598.2,813.4 598.5,814.4 598.8,815.3 C599.0,816.3 599.3,817.2 599.5,818.2 C599.8,819.2 600.1,820.1 600.3,821.1 C600.6,822.1 600.8,823.0 601.1,824.0 C601.3,825.0 601.6,825.9 601.9,826.9 C602.1,827.9 602.4,828.8 602.6,829.8 C602.9,830.8 603.2,831.7 603.4,832.7 C603.7,833.7 604.0,834.6 604.2,835.6 C604.5,836.5 604.8,837.5 605.1,838.5 C605.4,839.4 605.6,840.4 605.9,841.3 C606.2,842.3 606.5,843.3 606.8,844.2 C607.1,845.2 607.4,846.1 607.7,847.1 C608.0,848.0 608.3,849.0 608.6,849.9 C608.9,850.9 609.2,851.8 609.5,852.8 C609.8,853.7 610.1,854.7 610.5,855.6 C610.8,856.6 611.1,857.5 611.5,858.4 C611.8,859.4 612.2,860.3 612.5,861.3 C612.9,862.2 613.2,863.1 613.6,864.1 C613.9,865.0 614.3,865.9 614.7,866.8 C615.1,867.8 615.4,868.7 615.8,869.6 C616.2,870.5 616.6,871.5 617.0,872.4 C617.4,873.3 617.8,874.2 618.2,875.1 C618.6,876.0 619.0,876.9 619.4,877.8 C619.8,878.7 620.3,879.6 620.7,880.5 C621.2,881.4 621.6,882.3 622.1,883.2 C622.6,884.1 623.1,884.9 623.6,885.8 C624.0,886.7 624.5,887.6 625.0,888.4 C625.5,889.3 626.0,890.1 626.5,891.0 C627.1,891.9 627.6,892.7 628.1,893.6 C628.6,894.4 629.1,895.3 629.6,896.1 C630.2,897.0 630.7,897.8 631.2,898.7 C631.7,899.5 632.3,900.4 632.8,901.2 C633.3,902.1 633.9,902.9 634.4,903.8 C635.0,904.6 635.5,905.4 636.1,906.3 C636.6,907.1 637.2,907.9 637.7,908.8 C638.3,909.6 638.8,910.4 639.4,911.2 C640.0,912.1 640.6,912.9 641.1,913.7 C641.7,914.5 642.3,915.3 642.8,916.2 C643.4,917.0 644.0,917.8 644.6,918.6 C645.2,919.4 645.7,920.2 646.3,921.0 C646.9,921.9 647.5,922.7 648.1,923.5 C648.7,924.3 649.3,925.1 649.9,925.8 C650.5,926.6 651.1,927.4 651.8,928.2 C652.4,929.0 653.0,929.8 653.7,930.5 C654.3,931.3 654.9,932.1 655.6,932.8 C656.2,933.6 656.9,934.3 657.5,935.1 C658.2,935.8 658.9,936.6 659.5,937.3 C660.2,938.1 660.9,938.8 661.5,939.6 C662.2,940.3 662.9,941.1 663.5,941.8 C664.2,942.5 664.9,943.3 665.5,944.0 C666.2,944.8 666.9,945.5 667.6,946.2 C668.2,947.0 668.9,947.7 669.6,948.4 C670.3,949.2 671.0,949.9 671.6,950.6 C672.3,951.4 673.0,952.1 673.7,952.8 C674.4,953.5 675.1,954.3 675.8,955.0 C676.5,955.7 677.2,956.4 677.9,957.1 C678.6,957.8 679.3,958.6 680.0,959.3 C680.7,960.0 681.4,960.7 682.1,961.4 C682.8,962.1 683.5,962.8 684.2,963.5 C684.9,964.2 685.6,964.9 686.3,965.6 C687.0,966.3 687.7,967.0 688.5,967.7 C689.2,968.4 689.9,969.1 690.6,969.8 C691.3,970.5 692.1,971.2 692.8,971.8 C693.5,972.5 694.3,973.2 695.0,973.8 C695.8,974.5 696.6,975.1 697.3,975.7 C698.1,976.4 698.9,977.0 699.7,977.6 C700.5,978.2 701.3,978.7 702.1,979.3 C702.9,979.9 703.7,980.5 704.6,981.0 C705.4,981.6 706.2,982.1 707.1,982.7 C707.9,983.2 708.7,983.8 709.6,984.3 C710.4,984.9 711.3,985.4 712.1,985.9 C713.0,986.4 713.8,986.9 714.7,987.4 C715.5,988.0 716.4,988.5 717.3,988.9 C718.1,989.4 719.0,989.9 719.9,990.4 C720.8,990.8 721.7,991.3 722.5,991.8 C723.4,992.2 724.3,992.6 725.2,993.1 C726.1,993.5 727.0,993.9 727.9,994.4 C728.8,994.8 729.7,995.2 730.7,995.6 C731.6,996.0 732.5,996.5 733.4,996.9 C734.3,997.3 735.2,997.7 736.1,998.1 C737.0,998.5 737.9,998.9 738.9,999.3 C739.8,999.7 740.7,1000.1 741.6,1000.5 C742.5,1000.9 743.5,1001.3 744.4,1001.7 C745.3,1002.0 746.2,1002.4 747.2,1002.8 C748.1,1003.2 749.0,1003.5 749.9,1003.9 C750.9,1004.3 751.8,1004.6 752.7,1005.0 C753.7,1005.3 754.6,1005.7 755.6,1006.0 C756.5,1006.4 757.4,1006.7 758.4,1007.1 C759.3,1007.4 760.2,1007.8 761.2,1008.1 C762.1,1008.5 763.0,1008.8 764.0,1009.2 C764.9,1009.5 765.9,1009.9 766.8,1010.2 C767.7,1010.6 768.7,1010.9 769.6,1011.2 C770.6,1011.6 771.5,1011.9 772.4,1012.3 C773.4,1012.6 774.3,1013.0 775.3,1013.3 C776.2,1013.6 777.1,1014.0 778.1,1014.3 C779.0,1014.6 780.0,1014.9 780.9,1015.3 C781.9,1015.6 782.8,1015.9 783.8,1016.2 C784.7,1016.5 785.7,1016.8 786.6,1017.1 C787.6,1017.3 788.5,1017.6 789.5,1017.9 C790.5,1018.2 791.4,1018.4 792.4,1018.7 C793.4,1018.9 794.3,1019.2 795.3,1019.5 C796.3,1019.7 797.2,1020.0 798.2,1020.2 C799.2,1020.4 800.1,1020.7 801.1,1020.9 C802.1,1021.2 803.0,1021.4 804.0,1021.7 C805.0,1021.9 806.0,1022.2 806.9,1022.4 C807.9,1022.6 808.9,1022.9 809.8,1023.1 C810.8,1023.4 811.8,1023.6 812.7,1023.8 C813.7,1024.1 814.7,1024.3 815.7,1024.6 C816.6,1024.8 817.6,1025.0 818.6,1025.3 C819.5,1025.5 820.5,1025.8 821.5,1026.0 C822.5,1026.2 823.4,1026.5 824.4,1026.7 C825.4,1026.9 826.4,1027.2 827.3,1027.4 C828.3,1027.6 829.3,1027.8 830.2,1028.0 C831.2,1028.3 832.2,1028.5 833.2,1028.7 C834.2,1028.9 835.1,1029.1 836.1,1029.3 C837.1,1029.5 838.1,1029.7 839.1,1029.9 C840.0,1030.1 841.0,1030.3 842.0,1030.5 C843.0,1030.7 844.0,1030.9 844.9,1031.1 C845.9,1031.3 846.9,1031.5 847.9,1031.7 C848.9,1031.9 849.8,1032.1 850.8,1032.2 C851.8,1032.4 852.8,1032.6 853.8,1032.8 C854.8,1033.0 855.7,1033.1 856.7,1033.3 C857.7,1033.5 858.7,1033.6 859.7,1033.8 C860.7,1033.9 861.7,1034.1 862.6,1034.2 C863.6,1034.4 864.6,1034.5 865.6,1034.7 C866.6,1034.8 867.6,1034.9 868.6,1035.1 C869.6,1035.2 870.6,1035.3 871.6,1035.4 C872.6,1035.6 873.5,1035.7 874.5,1035.8 C875.5,1035.9 876.5,1036.0 877.5,1036.1 C878.5,1036.3 879.5,1036.4 880.5,1036.5 C881.5,1036.6 882.5,1036.7 883.5,1036.8 C884.5,1037.0 885.5,1037.1 886.5,1037.2 C887.4,1037.3 888.4,1037.4 889.4,1037.5 C890.4,1037.7 891.4,1037.8 892.4,1037.9 C893.4,1038.0 894.4,1038.1 895.4,1038.2 C896.4,1038.3 897.4,1038.5 898.4,1038.6 C899.4,1038.7 900.4,1038.8 901.4,1038.9 C902.3,1039.0 903.3,1039.2 904.3,1039.3 C905.3,1039.4 906.3,1039.5 907.3,1039.6 C908.3,1039.7 909.3,1039.8 910.3,1039.9 C911.3,1040.0 912.3,1040.1 913.3,1040.2 C914.3,1040.3 915.3,1040.4 916.3,1040.6 C917.3,1040.7 918.3,1040.8 919.3,1040.9 C920.2,1041.0 921.2,1041.1 922.2,1041.2 C923.2,1041.3 924.2,1041.4 925.2,1041.5 C926.2,1041.6 927.2,1041.7 928.2,1041.8 C929.2,1041.9 930.2,1041.9 931.2,1042.0 C932.2,1042.1 933.2,1042.2 934.2,1042.3 C935.2,1042.4 936.2,1042.5 937.2,1042.6 C938.2,1042.7 939.2,1042.8 940.1,1042.9 C941.1,1043.0 942.1,1043.1 943.1,1043.2 C944.1,1043.3 945.1,1043.4 946.1,1043.5 C947.1,1043.6 948.1,1043.7 949.1,1043.8 C950.1,1043.9 951.1,1044.0 952.1,1044.1 C953.1,1044.2 954.1,1044.3 955.1,1044.4 C956.1,1044.5 957.1,1044.6 958.1,1044.6 C959.1,1044.7 960.1,1044.8 961.1,1044.9 C962.1,1045.0 963.0,1045.1 964.0,1045.1 C965.0,1045.2 966.0,1045.3 967.0,1045.4 C968.0,1045.4 969.0,1045.5 970.0,1045.6 C971.0,1045.7 972.0,1045.7 973.0,1045.8 C974.0,1045.9 975.0,1045.9 976.0,1046.0 C977.0,1046.1 978.0,1046.1 979.0,1046.2 C980.0,1046.3 981.0,1046.3 982.0,1046.4 C983.0,1046.5 984.0,1046.5 985.0,1046.6 C986.0,1046.7 987.0,1046.7 988.0,1046.8 C989.0,1046.9 990.0,1047.0 991.0,1047.0 C992.0,1047.1 993.0,1047.2 994.0,1047.2 C995.0,1047.3 996.0,1047.4 997.0,1047.4 C998.0,1047.5 999.0,1047.6 1000.0,1047.6 C1001.0,1047.7 1002.0,1047.7 1003.0,1047.8 C1003.9,1047.9 1004.9,1047.9 1005.9,1048.0 C1006.9,1048.1 1007.9,1048.1 1008.9,1048.2 C1009.9,1048.3 1010.9,1048.3 1011.9,1048.4 C1012.9,1048.4 1013.9,1048.5 1014.9,1048.5 C1015.9,1048.6 1016.9,1048.6 1017.9,1048.7 C1018.9,1048.8 1019.9,1048.8 1020.9,1048.9 C1021.9,1048.9 1022.9,1049.0 1023.9,1049.0 C1024.9,1049.1 1025.9,1049.1 1026.9,1049.2 C1027.9,1049.2 1028.9,1049.3 1029.9,1049.3 C1030.9,1049.4 1031.9,1049.4 1032.9,1049.5 C1033.9,1049.5 1034.9,1049.6 1035.9,1049.6 C1036.9,1049.7 1037.9,1049.7 1038.9,1049.8 C1039.9,1049.8 1040.9,1049.9 1041.9,1049.9 C1042.9,1050.0 1043.9,1050.0 1044.9,1050.1 C1045.9,1050.1 1046.9,1050.2 1047.9,1050.2 C1048.9,1050.2 1049.9,1050.3 1050.9,1050.3 C1051.9,1050.4 1052.9,1050.4 1053.9,1050.5 C1054.9,1050.5 1055.9,1050.6 1056.9,1050.6 C1057.9,1050.7 1058.9,1050.7 1059.9,1050.8 C1060.9,1050.8 1061.9,1050.9 1062.9,1050.9 C1063.9,1050.9 1064.9,1051.0 1065.9,1051.0 C1066.9,1051.1 1067.9,1051.1 1068.9,1051.1 C1069.9,1051.2 1070.9,1051.2 1071.9,1051.3 C1072.9,1051.3 1073.9,1051.3 1074.9,1051.4 C1075.9,1051.4 1076.9,1051.5 1077.9,1051.5 C1078.9,1051.5 1079.9,1051.6 1080.9,1051.6 C1081.9,1051.7 1082.9,1051.7 1083.9,1051.7 C1084.9,1051.8 1085.9,1051.8 1086.9,1051.8 C1087.9,1051.9 1088.9,1051.9 1089.8,1051.9 C1090.8,1052.0 1091.8,1052.0 1092.8,1052.1 C1093.8,1052.1 1094.8,1052.1 1095.8,1052.2 C1096.8,1052.2 1097.8,1052.2 1098.8,1052.3 C1099.8,1052.3 1100.8,1052.3 1101.8,1052.4 C1102.8,1052.4 1103.8,1052.4 1104.8,1052.4 C1105.8,1052.5 1106.8,1052.5 1107.8,1052.5 C1108.8,1052.6 1109.8,1052.6 1110.8,1052.6 C1111.8,1052.6 1112.8,1052.7 1113.8,1052.7 C1114.8,1052.7 1115.8,1052.7 1116.8,1052.8 C1117.8,1052.8 1118.8,1052.8 1119.8,1052.9 C1120.8,1052.9 1121.8,1052.9 1122.8,1052.9 C1123.8,1053.0 1124.8,1053.0 1125.8,1053.0 C1126.8,1053.0 1127.8,1053.1 1128.8,1053.1 C1129.8,1053.1 1130.8,1053.2 1131.8,1053.2 C1132.8,1053.2 1133.8,1053.2 1134.8,1053.3 C1135.8,1053.3 1136.8,1053.3 1137.8,1053.3 C1138.8,1053.4 1139.8,1053.4 1140.8,1053.4 C1141.8,1053.4 1142.8,1053.5 1143.8,1053.5 C1144.8,1053.5 1145.8,1053.6 1146.8,1053.6 C1147.8,1053.6 1148.8,1053.6 1149.8,1053.7 C1150.8,1053.7 1151.8,1053.7 1152.8,1053.7 C1153.8,1053.8 1154.8,1053.8 1155.8,1053.8 C1156.8,1053.8 1157.8,1053.9 1158.8,1053.9 C1159.8,1053.9 1160.8,1054.0 1161.8,1054.0 C1162.8,1054.0 1163.8,1054.0 1164.8,1054.1 C1165.8,1054.1 1166.8,1054.1 1167.8,1054.1 C1168.8,1054.2 1169.8,1054.2 1170.8,1054.2 C1171.8,1054.2 1172.8,1054.3 1173.8,1054.3 C1174.8,1054.3 1175.8,1054.4 1176.8,1054.4 C1177.8,1054.4 1178.8,1054.4 1179.8,1054.5 C1180.8,1054.5 1181.8,1054.5 1182.8,1054.5 C1183.8,1054.6 1184.8,1054.6 1185.8,1054.6 C1186.8,1054.6 1187.8,1054.7 1188.8,1054.7 C1189.8,1054.7 1190.8,1054.7 1191.8,1054.8 C1192.8,1054.8 1193.8,1054.8 1194.8,1054.8 C1195.8,1054.9 1196.8,1054.9 1197.8,1054.9 C1198.8,1054.9 1199.8,1055.0 1200.8,1055.0 C1201.8,1055.0 1202.8,1055.0 1203.8,1055.1 C1204.8,1055.1 1205.8,1055.1 1206.8,1055.1 C1207.8,1055.1 1208.8,1055.1 1209.8,1055.2 C1210.8,1055.2 1211.8,1055.2 1212.8,1055.2 C1213.8,1055.2 1214.8,1055.3 1215.8,1055.3 C1216.8,1055.3 1217.8,1055.3 1218.8,1055.3 C1219.8,1055.3 1220.8,1055.4 1221.8,1055.4 C1222.8,1055.4 1223.8,1055.4 1224.8,1055.4 C1225.8,1055.5 1226.8,1055.5 1227.8,1055.5 C1228.8,1055.5 1229.8,1055.5 1230.8,1055.5 C1231.8,1055.6 1232.8,1055.6 1233.8,1055.6 C1234.8,1055.6 1235.8,1055.6 1236.8,1055.6 C1237.8,1055.7 1238.8,1055.7 1239.8,1055.7 C1240.8,1055.7 1241.8,1055.7 1242.8,1055.8 C1243.8,1055.8 1244.8,1055.8 1245.8,1055.8 C1246.8,1055.8 1247.8,1055.8 1248.8,1055.9 C1249.8,1055.9 1250.8,1055.9 1251.8,1055.9 C1252.8,1055.9 1253.8,1055.9 1254.8,1056.0 C1255.8,1056.0 1256.8,1056.0 1257.8,1056.0 C1258.8,1056.0 1259.8,1056.0 1260.8,1056.1 C1261.8,1056.1 1262.8,1056.1 1263.8,1056.1 C1264.8,1056.1 1265.8,1056.2 1266.8,1056.2 C1267.8,1056.2 1268.8,1056.2 1269.8,1056.2 C1270.8,1056.2 1271.8,1056.3 1272.8,1056.3 C1273.8,1056.3 1274.8,1056.3 1275.8,1056.3 C1276.8,1056.3 1277.8,1056.4 1278.8,1056.4 C1279.8,1056.4 1280.8,1056.4 1281.8,1056.4 C1282.8,1056.5 1283.8,1056.5 1284.8,1056.5 C1285.8,1056.5 1286.8,1056.5 1287.8,1056.5 C1288.8,1056.6 1289.8,1056.6 1290.8,1056.6 C1291.8,1056.6 1292.8,1056.6 1293.8,1056.6 C1294.8,1056.7 1295.8,1056.7 1296.8,1056.7 C1297.8,1056.7 1298.8,1056.7 1299.8,1056.8 C1300.8,1056.8 1301.8,1056.8 1302.8,1056.8 C1303.8,1056.8 1304.8,1056.8 1305.8,1056.9 C1306.8,1056.9 1307.8,1056.9 1308.8,1056.9 C1309.8,1056.9 1310.8,1056.9 1311.8,1057.0 C1312.8,1057.0 1313.8,1057.0 1314.8,1057.0 C1315.8,1057.0 1316.8,1057.0 1317.8,1057.1 C1318.8,1057.1 1319.8,1057.1 1320.8,1057.1 C1321.8,1057.1 1322.8,1057.2 1323.8,1057.2 C1324.8,1057.2 1325.8,1057.2 1326.8,1057.2 C1327.8,1057.2 1328.8,1057.3 1329.8,1057.3 C1330.8,1057.3 1331.8,1057.3 1332.8,1057.3 C1333.8,1057.3 1334.8,1057.4 1335.8,1057.4 C1336.8,1057.4 1337.8,1057.4 1338.8,1057.4 C1339.8,1057.5 1340.8,1057.5 1341.8,1057.5 C1342.8,1057.5 1343.8,1057.5 1344.8,1057.5 C1345.8,1057.6 1346.8,1057.6 1347.8,1057.6 C1348.8,1057.6 1349.8,1057.6 1350.8,1057.6 C1351.8,1057.7 1352.8,1057.7 1353.7,1057.7 C1354.7,1057.7 1355.7,1057.7 1356.7,1057.7 C1357.7,1057.8 1358.7,1057.8 1359.6,1057.8 C1360.6,1057.8 1361.6,1057.8 1362.6,1057.9 C1363.5,1057.9 1364.5,1057.9 1365.5,1057.9 C1366.5,1057.9 1367.7,1057.9 1368.6,1058.0 C1369.5,1058.0 1370.4,1058.0 1370.8,1058.0" stroke="#009400"/>
<path d="M108.0,163.0 C108.5,163.0 110.2,163.1 111.2,163.1 C112.3,163.2 113.3,163.2 114.3,163.2 C115.2,163.3 116.2,163.3 117.2,163.3 C118.2,163.4 119.1,163.4 120.1,163.4 C121.1,163.4 122.1,163.5 123.0,163.5 C124.0,163.5 125.0,163.5 126.0,163.5 C127.0,163.5 128.0,163.5 129.0,163.4 C130.0,163.4 131.0,163.3 132.0,163.3 C133.0,163.2 134.0,163.2 135.0,163.1 C135.9,163.0 136.9,162.9 137.9,162.9 C138.9,162.8 139.9,162.7 140.9,162.6 C141.9,162.5 142.9,162.4 143.9,162.3 C144.9,162.2 145.9,162.1 146.9,162.0 C147.9,161.8 148.9,161.7 149.9,161.6 C150.9,161.5 151.8,161.4 152.8,161.2 C153.8,161.1 154.8,161.0 155.8,160.8 C156.8,160.7 157.8,160.6 158.8,160.4 C159.8,160.3 160.8,160.2 161.8,160.0 C162.7,159.9 163.7,159.7 164.7,159.6 C165.7,159.4 166.7,159.3 167.7,159.1 C168.7,159.0 169.7,158.8 170.7,158.7 C171.6,158.5 172.6,158.4 173.6,158.2 C174.6,158.0 175.6,157.9 176.6,157.7 C177.6,157.5 178.5,157.4 179.5,157.2 C180.5,157.0 181.5,156.9 182.5,156.7 C183.5,156.5 184.5,156.3 185.4,156.1 C186.4,156.0 187.4,155.8 188.4,155.6 C189.4,155.4 190.3,155.2 191.3,155.0 C192.3,154.8 193.3,154.6 194.3,154.4 C195.3,154.3 196.2,154.1 197.2,153.9 C198.2,153.7 199.2,153.4 200.1,153.2 C201.1,153.0 202.1,152.8 203.1,152.6 C204.1,152.4 205.0,152.2 206.0,152.0 C207.0,151.8 208.0,151.6 208.9,151.3 C209.9,151.1 210.9,150.9 211.9,150.7 C212.8,150.4 213.8,150.2 214.8,150.0 C215.8,149.8 216.7,149.5 217.7,149.3 C218.7,149.1 219.7,148.9 220.6,148.7 C221.6,148.4 222.6,148.2 223.6,148.0 C224.5,147.8 225.5,147.6 226.5,147.5 C227.5,147.3 228.5,147.1 229.4,146.9 C230.4,146.8 231.4,146.6 232.4,146.5 C233.4,146.4 234.4,146.3 235.4,146.1 C236.4,146.0 237.4,145.9 238.3,145.9 C239.3,145.8 240.3,145.7 241.3,145.6 C242.3,145.6 243.3,145.5 244.3,145.5 C245.3,145.4 246.3,145.4 247.3,145.3 C248.3,145.3 249.3,145.3 250.3,145.3 C251.3,145.3 252.3,145.3 253.3,145.3 C254.3,145.3 255.3,145.3 256.3,145.4 C257.3,145.4 258.3,145.4 259.3,145.5 C260.3,145.5 261.3,145.6 262.3,145.6 C263.3,145.7 264.3,145.8 265.3,145.8 C266.3,145.9 267.3,146.0 268.3,146.1 C269.3,146.2 270.2,146.3 271.2,146.3 C272.2,146.4 273.2,146.6 274.2,146.7 C275.2,146.8 276.2,146.9 277.2,147.0 C278.2,147.1 279.2,147.3 280.2,147.4 C281.2,147.6 282.1,147.7 283.1,147.9 C284.1,148.0 285.1,148.2 286.1,148.3 C287.1,148.5 288.1,148.7 289.1,148.8 C290.0,149.0 291.0,149.2 292.0,149.3 C293.0,149.5 294.0,149.7 295.0,149.9 C295.9,150.0 296.9,150.2 297.9,150.4 C298.9,150.6 299.9,150.8 300.9,151.0 C301.8,151.2 302.8,151.4 303.8,151.6 C304.8,151.8 305.8,151.9 306.7,152.2 C307.7,152.4 308.7,152.6 309.7,152.8 C310.7,153.0 311.6,153.2 312.6,153.4 C313.6,153.6 314.6,153.8 315.5,154.0 C316.5,154.2 317.5,154.4 318.5,154.7 C319.4,154.9 320.4,155.1 321.4,155.3 C322.4,155.6 323.3,155.8 324.3,156.0 C325.3,156.2 326.3,156.5 327.2,156.7 C328.2,156.9 329.2,157.2 330.2,157.4 C331.1,157.7 332.1,157.9 333.1,158.1 C334.0,158.4 335.0,158.6 336.0,158.9 C336.9,159.1 337.9,159.4 338.9,159.6 C339.8,159.9 340.8,160.1 341.8,160.4 C342.7,160.6 343.7,160.9 344.7,161.2 C345.6,161.4 346.6,161.7 347.6,161.9 C348.5,162.2 349.5,162.5 350.5,162.8 C351.4,163.0 352.4,163.3 353.3,163.6 C354.3,163.8 355.3,164.1 356.2,164.4 C357.2,164.7 358.1,165.0 359.1,165.2 C360.1,165.5 361.0,165.8 362.0,166.1 C362.9,166.4 363.9,166.7 364.8,167.0 C365.8,167.3 366.8,167.6 367.7,167.9 C368.7,168.2 369.6,168.5 370.6,168.8 C371.5,169.1 372.4,169.4 373.4,169.8 C374.3,170.1 375.3,170.4 376.2,170.8 C377.1,171.1 378.1,171.5 379.0,171.9 C379.9,172.2 380.8,172.6 381.7,173.0 C382.7,173.4 383.6,173.8 384.5,174.2 C385.4,174.7 386.3,175.1 387.2,175.5 C388.1,176.0 389.0,176.4 389.9,176.9 C390.8,177.3 391.7,177.8 392.5,178.2 C393.4,178.7 394.3,179.1 395.2,179.6 C396.1,180.1 397.0,180.5 397.9,181.0 C398.7,181.5 399.6,181.9 400.5,182.4 C401.4,182.9 402.2,183.4 403.1,183.9 C404.0,184.4 404.9,184.8 405.7,185.3 C406.6,185.8 407.5,186.3 408.3,186.8 C409.2,187.3 410.1,187.8 410.9,188.3 C411.8,188.9 412.6,189.4 413.5,189.9 C414.3,190.4 415.2,190.9 416.0,191.5 C416.9,192.0 417.7,192.6 418.5,193.1 C419.4,193.7 420.2,194.2 421.0,194.8 C421.9,195.3 422.7,195.9 423.5,196.5 C424.3,197.1 425.1,197.6 425.9,198.2 C426.7,198.8 427.5,199.4 428.3,200.0 C429.1,200.6 429.9,201.2 430.7,201.9 C431.4,202.5 432.2,203.1 433.0,203.8 C433.7,204.4 434.4,205.1 435.2,205.8 C435.9,206.5 436.6,207.1 437.3,207.8 C438.0,208.5 438.7,209.3 439.4,210.0 C440.1,210.7 440.8,211.5 441.4,212.2 C442.1,212.9 442.7,213.7 443.3,214.5 C444.0,215.2 444.6,216.0 445.2,216.8 C445.8,217.6 446.4,218.4 447.0,219.2 C447.6,220.0 448.2,220.8 448.7,221.6 C449.3,222.4 449.9,223.3 450.5,224.1 C451.0,224.9 451.6,225.8 452.1,226.6 C452.7,227.4 453.2,228.3 453.8,229.1 C454.3,229.9 454.8,230.8 455.4,231.6 C455.9,232.5 456.4,233.3 457.0,234.2 C457.5,235.0 458.0,235.9 458.6,236.7 C459.1,237.6 459.6,238.4 460.1,239.3 C460.6,240.1 461.1,241.0 461.7,241.8 C462.2,242.7 462.7,243.6 463.2,244.4 C463.7,245.3 464.1,246.2 464.6,247.0 C465.1,247.9 465.6,248.8 466.0,249.7 C466.5,250.6 467.0,251.4 467.4,252.3 C467.9,253.2 468.3,254.1 468.8,255.0 C469.2,255.9 469.7,256.8 470.1,257.7 C470.5,258.6 471.0,259.5 471.4,260.4 C471.8,261.3 472.2,262.2 472.7,263.1 C473.1,264.0 473.5,265.0 473.9,265.9 C474.3,266.8 474.7,267.7 475.2,268.6 C475.6,269.5 476.0,270.4 476.4,271.3 C476.8,272.2 477.2,273.1 477.6,274.1 C478.0,275.0 478.4,275.9 478.8,276.8 C479.2,277.7 479.6,278.6 480.0,279.6 C480.4,280.5 480.8,281.4 481.2,282.3 C481.6,283.2 482.0,284.1 482.4,285.1 C482.8,286.0 483.2,286.9 483.5,287.8 C483.9,288.8 484.3,289.7 484.7,290.6 C485.1,291.5 485.4,292.5 485.8,293.4 C486.2,294.3 486.6,295.2 486.9,296.2 C487.3,297.1 487.7,298.0 488.0,299.0 C488.4,299.9 488.7,300.8 489.1,301.8 C489.4,302.7 489.8,303.6 490.1,304.6 C490.5,305.5 490.8,306.5 491.2,307.4 C491.5,308.3 491.8,309.3 492.2,310.2 C492.5,311.2 492.8,312.1 493.2,313.1 C493.5,314.0 493.8,314.9 494.1,315.9 C494.5,316.8 494.8,317.8 495.1,318.7 C495.4,319.7 495.7,320.6 496.0,321.6 C496.4,322.5 496.7,323.5 497.0,324.4 C497.3,325.4 497.6,326.3 497.9,327.3 C498.1,328.2 498.4,329.2 498.7,330.2 C499.0,331.1 499.3,332.1 499.6,333.0 C499.9,334.0 500.2,335.0 500.4,335.9 C500.7,336.9 501.0,337.8 501.3,338.8 C501.5,339.8 501.8,340.7 502.1,341.7 C502.4,342.6 502.6,343.6 502.9,344.6 C503.2,345.5 503.4,346.5 503.7,347.5 C504.0,348.4 504.2,349.4 504.5,350.4 C504.8,351.3 505.0,352.3 505.3,353.2 C505.6,354.2 505.8,355.2 506.1,356.1 C506.4,357.1 506.6,358.1 506.9,359.0 C507.1,360.0 507.4,361.0 507.7,361.9 C507.9,362.9 508.2,363.9 508.4,364.8 C508.7,365.8 508.9,366.8 509.2,367.7 C509.4,368.7 509.7,369.7 509.9,370.6 C510.2,371.6 510.4,372.6 510.7,373.5 C510.9,374.5 511.2,375.5 511.4,376.5 C511.7,377.4 511.9,378.4 512.1,379.4 C512.4,380.3 512.6,381.3 512.9,382.3 C513.1,383.2 513.4,384.2 513.6,385.2 C513.8,386.2 514.1,387.1 514.3,388.1 C514.6,389.1 514.8,390.0 515.1,391.0 C515.3,392.0 515.5,392.9 515.8,393.9 C516.0,394.9 516.3,395.9 516.5,396.8 C516.7,397.8 517.0,398.8 517.2,399.7 C517.5,400.7 517.7,401.7 518.0,402.6 C518.2,403.6 518.4,404.6 518.7,405.6 C518.9,406.5 519.2,407.5 519.4,408.5 C519.7,409.4 519.9,410.4 520.1,411.4 C520.4,412.3 520.6,413.3 520.9,414.3 C521.1,415.3 521.4,416.2 521.6,417.2 C521.8,418.2 522.1,419.1 522.3,420.1 C522.6,421.1 522.8,422.0 523.1,423.0 C523.3,424.0 523.5,425.0 523.8,425.9 C524.0,426.9 524.3,427.9 524.5,428.8 C524.8,429.8 525.0,430.8 525.2,431.7 C525.5,432.7 525.7,433.7 526.0,434.7 C526.2,435.6 526.4,436.6 526.7,437.6 C526.9,438.5 527.2,439.5 527.4,440.5 C527.7,441.5 527.9,442.4 528.1,443.4 C528.4,444.4 528.6,445.3 528.9,446.3 C529.1,447.3 529.3,448.2 529.6,449.2 C529.8,450.2 530.1,451.2 530.3,452.1 C530.5,453.1 530.8,454.1 531.0,455.0 C531.2,456.0 531.4,457.0 531.7,458.0 C531.9,458.9 532.1,459.9 532.3,460.9 C532.5,461.9 532.7,462.9 532.9,463.8 C533.1,464.8 533.3,465.8 533.5,466.8 C533.7,467.8 533.9,468.7 534.1,469.7 C534.3,470.7 534.5,471.7 534.7,472.7 C534.9,473.6 535.1,474.6 535.3,475.6 C535.5,476.6 535.7,477.6 535.9,478.5 C536.1,479.5 536.3,480.5 536.5,481.5 C536.7,482.4 537.0,483.4 537.2,484.4 C537.4,485.4 537.6,486.3 537.9,487.3 C538.1,488.3 538.3,489.2 538.6,490.2 C538.8,491.2 539.1,492.2 539.3,493.1 C539.5,494.1 539.8,495.1 540.0,496.0 C540.3,497.0 540.5,498.0 540.7,499.0 C541.0,499.9 541.2,500.9 541.5,501.9 C541.7,502.8 542.0,503.8 542.2,504.8 C542.4,505.7 542.7,506.7 542.9,507.7 C543.2,508.7 543.4,509.6 543.7,510.6 C543.9,511.6 544.1,512.5 544.4,513.5 C544.6,514.5 544.9,515.4 545.1,516.4 C545.4,517.4 545.6,518.4 545.9,519.3 C546.1,520.3 546.4,521.3 546.6,522.2 C546.9,523.2 547.1,524.2 547.4,525.1 C547.6,526.1 547.9,527.1 548.2,528.0 C548.4,529.0 548.7,529.9 549.0,530.9 C549.2,531.9 549.5,532.8 549.8,533.8 C550.1,534.8 550.3,535.7 550.6,536.7 C550.9,537.6 551.2,538.6 551.5,539.6 C551.8,540.5 552.0,541.5 552.3,542.4 C552.6,543.4 552.9,544.3 553.2,545.3 C553.4,546.3 553.7,547.2 554.0,548.2 C554.3,549.2 554.5,550.1 554.8,551.1 C555.1,552.0 555.3,553.0 555.6,554.0 C555.8,554.9 556.1,555.9 556.4,556.9 C556.6,557.8 556.9,558.8 557.1,559.8 C557.4,560.7 557.6,561.7 557.9,562.7 C558.1,563.6 558.3,564.6 558.6,565.6 C558.8,566.6 559.1,567.5 559.3,568.5 C559.6,569.5 559.8,570.4 560.0,571.4 C560.3,572.4 560.5,573.4 560.8,574.3 C561.0,575.3 561.3,576.3 561.5,577.2 C561.7,578.2 562.0,579.2 562.2,580.1 C562.5,581.1 562.7,582.1 562.9,583.1 C563.2,584.0 563.4,585.0 563.6,586.0 C563.9,586.9 564.1,587.9 564.4,588.9 C564.6,589.9 564.8,590.8 565.1,591.8 C565.3,592.8 565.6,593.7 565.8,594.7 C566.0,595.7 566.3,596.7 566.5,597.6 C566.8,598.6 567.0,599.6 567.2,600.5 C567.5,601.5 567.7,602.5 568.0,603.4 C568.2,604.4 568.5,605.4 568.7,606.4 C568.9,607.3 569.2,608.3 569.4,609.3 C569.7,610.2 569.9,611.2 570.2,612.2 C570.4,613.1 570.6,614.1 570.9,615.1 C571.1,616.0 571.4,617.0 571.7,618.0 C571.9,619.0 572.2,619.9 572.4,620.9 C572.7,621.8 572.9,622.8 573.2,623.8 C573.5,624.7 573.7,625.7 574.0,626.7 C574.3,627.6 574.6,628.6 574.9,629.5 C575.1,630.5 575.4,631.5 575.7,632.4 C576.0,633.4 576.3,634.3 576.5,635.3 C576.8,636.3 577.1,637.2 577.4,638.2 C577.7,639.1 578.0,640.1 578.2,641.1 C578.5,642.0 578.8,643.0 579.1,643.9 C579.4,644.9 579.7,645.9 579.9,646.8 C580.2,647.8 580.5,648.7 580.8,649.7 C581.1,650.6 581.3,651.6 581.6,652.6 C581.9,653.5 582.2,654.5 582.5,655.4 C582.8,656.4 583.1,657.3 583.4,658.3 C583.7,659.2 584.0,660.2 584.3,661.1 C584.7,662.1 585.0,663.0 585.3,664.0 C585.6,664.9 586.0,665.9 586.3,666.8 C586.6,667.8 587.0,668.7 587.3,669.6 C587.6,670.6 588.0,671.5 588.3,672.4 C588.7,673.4 589.0,674.3 589.4,675.3 C589.7,676.2 590.1,677.1 590.4,678.1 C590.8,679.0 591.1,680.0 591.5,680.9 C591.8,681.8 592.2,682.8 592.5,683.7 C592.9,684.6 593.2,685.6 593.6,686.5 C593.9,687.4 594.3,688.4 594.6,689.3 C595.0,690.3 595.3,691.2 595.7,692.1 C596.0,693.1 596.4,694.0 596.7,694.9 C597.1,695.9 597.4,696.8 597.8,697.8 C598.1,698.7 598.5,699.6 598.8,700.6 C599.2,701.5 599.5,702.4 599.9,703.4 C600.2,704.3 600.6,705.2 600.9,706.2 C601.3,707.1 601.7,708.0 602.0,709.0 C602.4,709.9 602.7,710.8 603.1,711.8 C603.5,712.7 603.8,713.6 604.2,714.6 C604.6,715.5 604.9,716.4 605.3,717.3 C605.7,718.3 606.0,719.2 606.4,720.1 C606.8,721.1 607.2,722.0 607.5,722.9 C607.9,723.8 608.3,724.8 608.7,725.7 C609.0,726.6 609.4,727.5 609.8,728.5 C610.2,729.4 610.6,730.3 611.0,731.2 C611.3,732.2 611.7,733.1 612.1,734.0 C612.5,734.9 612.9,735.8 613.3,736.8 C613.7,737.7 614.1,738.6 614.5,739.5 C614.9,740.4 615.4,741.3 615.8,742.2 C616.2,743.1 616.6,744.0 617.0,744.9 C617.5,745.9 617.9,746.8 618.3,747.7 C618.7,748.6 619.2,749.5 619.6,750.4 C620.0,751.3 620.4,752.2 620.9,753.1 C621.3,754.0 621.7,754.9 622.2,755.8 C622.6,756.7 623.1,757.6 623.5,758.5 C623.9,759.4 624.4,760.3 624.8,761.2 C625.3,762.1 625.7,762.9 626.2,763.8 C626.7,764.7 627.1,765.6 627.6,766.5 C628.1,767.4 628.5,768.2 629.0,769.1 C629.5,770.0 630.0,770.9 630.4,771.8 C630.9,772.6 631.4,773.5 631.9,774.4 C632.4,775.3 632.9,776.1 633.3,777.0 C633.8,777.9 634.3,778.8 634.8,779.6 C635.3,780.5 635.8,781.4 636.3,782.2 C636.8,783.1 637.3,783.9 637.8,784.8 C638.4,785.6 638.9,786.5 639.4,787.3 C640.0,788.2 640.5,789.0 641.1,789.9 C641.6,790.7 642.2,791.5 642.7,792.3 C643.3,793.2 643.9,794.0 644.4,794.8 C645.0,795.6 645.6,796.4 646.2,797.2 C646.7,798.1 647.3,798.9 647.9,799.7 C648.5,800.5 649.1,801.3 649.7,802.1 C650.3,802.9 650.8,803.7 651.4,804.6 C652.0,805.4 652.6,806.2 653.2,807.0 C653.7,807.8 654.3,808.6 654.9,809.4 C655.5,810.3 656.0,811.1 656.6,811.9 C657.2,812.7 657.7,813.6 658.3,814.4 C658.9,815.2 659.4,816.0 660.0,816.9 C660.6,817.7 661.1,818.5 661.7,819.3 C662.3,820.2 662.8,821.0 663.4,821.8 C664.0,822.6 664.5,823.4 665.1,824.3 C665.7,825.1 666.2,825.9 666.8,826.7 C667.4,827.5 668.0,828.4 668.5,829.2 C669.1,830.0 669.7,830.8 670.3,831.6 C670.9,832.4 671.5,833.2 672.1,834.0 C672.7,834.8 673.3,835.6 673.9,836.4 C674.5,837.2 675.1,838.0 675.7,838.8 C676.4,839.6 677.0,840.3 677.6,841.1 C678.2,841.9 678.8,842.7 679.4,843.5 C680.1,844.3 680.7,845.0 681.3,845.8 C681.9,846.6 682.6,847.4 683.2,848.2 C683.8,849.0 684.4,849.8 685.0,850.5 C685.7,851.3 686.3,852.1 686.9,852.9 C687.5,853.7 688.1,854.5 688.8,855.2 C689.4,856.0 690.0,856.8 690.6,857.6 C691.2,858.4 691.8,859.2 692.5,860.0 C693.1,860.8 693.7,861.5 694.3,862.3 C694.9,863.1 695.5,863.9 696.1,864.7 C696.8,865.5 697.4,866.3 698.0,867.1 C698.6,867.9 699.2,868.6 699.8,869.4 C700.4,870.2 701.1,871.0 701.7,871.8 C702.3,872.6 702.9,873.4 703.6,874.1 C704.2,874.9 704.8,875.7 705.4,876.5 C706.1,877.2 706.7,878.0 707.4,878.8 C708.0,879.5 708.7,880.3 709.3,881.0 C710.0,881.8 710.6,882.5 711.3,883.3 C712.0,884.0 712.7,884.8 713.3,885.5 C714.0,886.2 714.7,887.0 715.4,887.7 C716.1,888.4 716.7,889.1 717.4,889.9 C718.1,890.6 718.8,891.3 719.5,892.0 C720.2,892.8 720.9,893.5 721.6,894.2 C722.3,894.9 723.0,895.6 723.7,896.3 C724.4,897.0 725.1,897.7 725.8,898.4 C726.5,899.1 727.2,899.8 728.0,900.5 C728.7,901.2 729.4,901.9 730.2,902.6 C730.9,903.2 731.6,903.9 732.4,904.6 C733.1,905.2 733.9,905.9 734.6,906.6 C735.4,907.2 736.1,907.9 736.9,908.5 C737.6,909.2 738.4,909.8 739.2,910.5 C739.9,911.1 740.7,911.8 741.4,912.4 C742.2,913.1 743.0,913.7 743.7,914.4 C744.5,915.0 745.3,915.7 746.0,916.3 C746.8,917.0 747.5,917.6 748.3,918.2 C749.1,918.9 749.8,919.5 750.6,920.2 C751.4,920.8 752.2,921.4 752.9,922.1 C753.7,922.7 754.5,923.3 755.3,924.0 C756.0,924.6 756.8,925.2 757.6,925.8 C758.4,926.5 759.2,927.1 760.0,927.7 C760.8,928.3 761.5,928.9 762.3,929.5 C763.1,930.1 763.9,930.7 764.7,931.3 C765.5,931.9 766.3,932.5 767.1,933.1 C767.9,933.7 768.7,934.3 769.5,934.9 C770.3,935.5 771.1,936.1 771.9,936.7 C772.7,937.3 773.5,937.9 774.3,938.5 C775.1,939.1 775.9,939.7 776.8,940.3 C777.6,940.9 778.4,941.5 779.2,942.0 C780.0,942.6 780.8,943.2 781.6,943.8 C782.5,944.3 783.3,944.9 784.1,945.4 C784.9,946.0 785.8,946.6 786.6,947.1 C787.4,947.7 788.3,948.2 789.1,948.7 C790.0,949.3 790.8,949.8 791.7,950.3 C792.5,950.8 793.4,951.4 794.2,951.9 C795.1,952.4 795.9,952.9 796.8,953.4 C797.6,954.0 798.5,954.5 799.4,955.0 C800.2,955.5 801.1,956.0 801.9,956.5 C802.8,957.1 803.6,957.6 804.5,958.1 C805.4,958.6 806.2,959.1 807.1,959.6 C807.9,960.1 808.8,960.7 809.6,961.2 C810.5,961.7 811.4,962.2 812.2,962.7 C813.1,963.2 813.9,963.7 814.8,964.3 C815.6,964.8 816.5,965.3 817.4,965.8 C818.2,966.3 819.1,966.8 819.9,967.3 C820.8,967.9 821.6,968.4 822.5,968.9 C823.4,969.4 824.2,969.9 825.1,970.4 C825.9,971.0 826.8,971.5 827.6,972.0 C828.5,972.5 829.4,973.0 830.2,973.5 C831.1,974.0 831.9,974.5 832.8,975.1 C833.7,975.6 834.5,976.1 835.4,976.6 C836.2,977.1 837.1,977.6 838.0,978.1 C838.8,978.6 839.7,979.1 840.6,979.6 C841.5,980.0 842.3,980.5 843.2,981.0 C844.1,981.5 845.0,982.0 845.8,982.5 C846.7,982.9 847.6,983.4 848.5,983.9 C849.4,984.3 850.3,984.8 851.1,985.3 C852.0,985.7 852.9,986.2 853.8,986.6 C854.7,987.1 855.6,987.5 856.5,988.0 C857.4,988.4 858.3,988.8 859.2,989.3 C860.1,989.7 861.0,990.1 861.9,990.5 C862.8,991.0 863.7,991.4 864.6,991.8 C865.5,992.2 866.5,992.6 867.4,993.0 C868.3,993.4 869.2,993.7 870.1,994.1 C871.1,994.5 872.0,994.9 872.9,995.3 C873.8,995.7 874.8,996.0 875.7,996.4 C876.6,996.8 877.5,997.2 878.5,997.5 C879.4,997.9 880.3,998.3 881.3,998.6 C882.2,999.0 883.1,999.4 884.1,999.7 C885.0,1000.1 885.9,1000.4 886.9,1000.7 C887.8,1001.1 888.8,1001.4 889.7,1001.8 C890.6,1002.1 891.6,1002.4 892.5,1002.8 C893.5,1003.1 894.4,1003.4 895.4,1003.7 C896.3,1004.1 897.3,1004.4 898.2,1004.7 C899.2,1005.0 900.1,1005.3 901.0,1005.6 C902.0,1006.0 902.9,1006.3 903.9,1006.6 C904.8,1006.9 905.8,1007.2 906.7,1007.5 C907.7,1007.9 908.6,1008.2 909.6,1008.5 C910.5,1008.8 911.5,1009.1 912.4,1009.4 C913.4,1009.8 914.3,1010.1 915.3,1010.4 C916.2,1010.7 917.2,1011.0 918.1,1011.3 C919.1,1011.6 920.0,1012.0 921.0,1012.3 C921.9,1012.6 922.9,1012.9 923.8,1013.2 C924.8,1013.5 925.7,1013.8 926.7,1014.1 C927.6,1014.5 928.6,1014.8 929.5,1015.1 C930.5,1015.4 931.4,1015.7 932.4,1016.0 C933.3,1016.3 934.3,1016.6 935.3,1016.8 C936.2,1017.1 937.2,1017.4 938.1,1017.7 C939.1,1018.0 940.1,1018.3 941.0,1018.5 C942.0,1018.8 942.9,1019.1 943.9,1019.3 C944.9,1019.6 945.8,1019.9 946.8,1020.1 C947.8,1020.4 948.7,1020.7 949.7,1020.9 C950.7,1021.2 951.6,1021.4 952.6,1021.7 C953.6,1022.0 954.5,1022.2 955.5,1022.5 C956.5,1022.7 957.4,1023.0 958.4,1023.2 C959.4,1023.5 960.3,1023.7 961.3,1024.0 C962.3,1024.2 963.2,1024.4 964.2,1024.7 C965.2,1024.9 966.1,1025.2 967.1,1025.4 C968.1,1025.6 969.1,1025.9 970.0,1026.1 C971.0,1026.3 972.0,1026.5 973.0,1026.8 C973.9,1027.0 974.9,1027.2 975.9,1027.4 C976.9,1027.7 977.8,1027.9 978.8,1028.1 C979.8,1028.3 980.8,1028.5 981.7,1028.7 C982.7,1029.0 983.7,1029.2 984.7,1029.4 C985.7,1029.6 986.6,1029.8 987.6,1030.0 C988.6,1030.1 989.6,1030.3 990.6,1030.5 C991.5,1030.7 992.5,1030.9 993.5,1031.0 C994.5,1031.2 995.5,1031.4 996.5,1031.6 C997.4,1031.7 998.4,1031.9 999.4,1032.1 C1000.4,1032.2 1001.4,1032.4 1002.4,1032.5 C1003.4,1032.7 1004.4,1032.9 1005.3,1033.0 C1006.3,1033.2 1007.3,1033.3 1008.3,1033.4 C1009.3,1033.6 1010.3,1033.7 1011.3,1033.9 C1012.3,1034.0 1013.3,1034.1 1014.3,1034.2 C1015.2,1034.4 1016.2,1034.5 1017.2,1034.6 C1018.2,1034.7 1019.2,1034.8 1020.2,1034.9 C1021.2,1035.0 1022.2,1035.1 1023.2,1035.2 C1024.2,1035.3 1025.2,1035.4 1026.2,1035.5 C1027.2,1035.6 1028.2,1035.7 1029.2,1035.8 C1030.2,1035.9 1031.2,1036.0 1032.2,1036.1 C1033.1,1036.2 1034.1,1036.3 1035.1,1036.4 C1036.1,1036.5 1037.1,1036.6 1038.1,1036.7 C1039.1,1036.8 1040.1,1036.9 1041.1,1037.0 C1042.1,1037.0 1043.1,1037.1 1044.1,1037.2 C1045.1,1037.3 1046.1,1037.4 1047.1,1037.5 C1048.1,1037.6 1049.1,1037.7 1050.1,1037.8 C1051.1,1037.8 1052.1,1037.9 1053.1,1038.0 C1054.1,1038.1 1055.1,1038.2 1056.1,1038.3 C1057.1,1038.3 1058.0,1038.4 1059.0,1038.5 C1060.0,1038.6 1061.0,1038.7 1062.0,1038.7 C1063.0,1038.8 1064.0,1038.9 1065.0,1039.0 C1066.0,1039.0 1067.0,1039.1 1068.0,1039.2 C1069.0,1039.2 1070.0,1039.3 1071.0,1039.4 C1072.0,1039.5 1073.0,1039.5 1074.0,1039.6 C1075.0,1039.7 1076.0,1039.7 1077.0,1039.8 C1078.0,1039.9 1079.0,1039.9 1080.0,1040.0 C1081.0,1040.1 1082.0,1040.1 1083.0,1040.2 C1084.0,1040.3 1085.0,1040.4 1086.0,1040.4 C1087.0,1040.5 1088.0,1040.6 1089.0,1040.7 C1090.0,1040.8 1091.0,1040.8 1092.0,1040.9 C1093.0,1041.0 1093.9,1041.1 1094.9,1041.2 C1095.9,1041.3 1096.9,1041.4 1097.9,1041.5 C1098.9,1041.5 1099.9,1041.6 1100.9,1041.7 C1101.9,1041.8 1102.9,1041.9 1103.9,1042.0 C1104.9,1042.1 1105.9,1042.2 1106.9,1042.3 C1107.9,1042.4 1108.9,1042.5 1109.9,1042.5 C1110.9,1042.6 1111.9,1042.7 1112.9,1042.8 C1113.9,1042.9 1114.9,1043.0 1115.9,1043.1 C1116.9,1043.2 1117.8,1043.3 1118.8,1043.4 C1119.8,1043.5 1120.8,1043.6 1121.8,1043.6 C1122.8,1043.7 1123.8,1043.8 1124.8,1043.9 C1125.8,1044.0 1126.8,1044.1 1127.8,1044.2 C1128.8,1044.3 1129.8,1044.4 1130.8,1044.5 C1131.8,1044.5 1132.8,1044.6 1133.8,1044.7 C1134.8,1044.8 1135.8,1044.9 1136.8,1045.0 C1137.8,1045.0 1138.8,1045.1 1139.8,1045.2 C1140.8,1045.3 1141.8,1045.4 1142.8,1045.4 C1143.7,1045.5 1144.7,1045.6 1145.7,1045.7 C1146.7,1045.8 1147.7,1045.8 1148.7,1045.9 C1149.7,1046.0 1150.7,1046.1 1151.7,1046.1 C1152.7,1046.2 1153.7,1046.3 1154.7,1046.4 C1155.7,1046.4 1156.7,1046.5 1157.7,1046.6 C1158.7,1046.7 1159.7,1046.7 1160.7,1046.8 C1161.7,1046.9 1162.7,1047.0 1163.7,1047.0 C1164.7,1047.1 1165.7,1047.2 1166.7,1047.3 C1167.7,1047.3 1168.7,1047.4 1169.7,1047.5 C1170.7,1047.6 1171.7,1047.6 1172.7,1047.7 C1173.7,1047.8 1174.7,1047.9 1175.7,1047.9 C1176.7,1048.0 1177.7,1048.1 1178.7,1048.2 C1179.6,1048.2 1180.6,1048.3 1181.6,1048.4 C1182.6,1048.4 1183.6,1048.5 1184.6,1048.6 C1185.6,1048.6 1186.6,1048.7 1187.6,1048.8 C1188.6,1048.8 1189.6,1048.9 1190.6,1049.0 C1191.6,1049.0 1192.6,1049.1 1193.6,1049.2 C1194.6,1049.2 1195.6,1049.3 1196.6,1049.4 C1197.6,1049.4 1198.6,1049.5 1199.6,1049.5 C1200.6,1049.6 1201.6,1049.7 1202.6,1049.7 C1203.6,1049.8 1204.6,1049.9 1205.6,1049.9 C1206.6,1050.0 1207.6,1050.0 1208.6,1050.1 C1209.6,1050.2 1210.6,1050.2 1211.6,1050.3 C1212.6,1050.4 1213.6,1050.4 1214.6,1050.5 C1215.6,1050.5 1216.6,1050.6 1217.6,1050.7 C1218.6,1050.7 1219.6,1050.8 1220.6,1050.9 C1221.6,1050.9 1222.6,1051.0 1223.6,1051.1 C1224.6,1051.1 1225.6,1051.2 1226.6,1051.2 C1227.5,1051.3 1228.5,1051.4 1229.5,1051.4 C1230.5,1051.5 1231.5,1051.6 1232.5,1051.6 C1233.5,1051.7 1234.5,1051.7 1235.5,1051.8 C1236.5,1051.9 1237.5,1051.9 1238.5,1052.0 C1239.5,1052.1 1240.5,1052.1 1241.5,1052.2 C1242.5,1052.2 1243.5,1052.3 1244.5,1052.4 C1245.5,1052.4 1246.5,1052.5 1247.5,1052.6 C1248.5,1052.6 1249.5,1052.7 1250.5,1052.8 C1251.5,1052.8 1252.5,1052.9 1253.5,1052.9 C1254.5,1053.0 1255.5,1053.1 1256.5,1053.1 C1257.5,1053.2 1258.5,1053.3 1259.5,1053.3 C1260.5,1053.4 1261.5,1053.5 1262.5,1053.5 C1263.5,1053.6 1264.5,1053.6 1265.5,1053.7 C1266.5,1053.8 1267.5,1053.8 1268.5,1053.9 C1269.5,1054.0 1270.5,1054.0 1271.5,1054.1 C1272.5,1054.1 1273.5,1054.2 1274.5,1054.2 C1275.5,1054.3 1276.5,1054.4 1277.5,1054.4 C1278.4,1054.5 1279.4,1054.5 1280.4,1054.6 C1281.4,1054.6 1282.4,1054.7 1283.4,1054.7 C1284.4,1054.8 1285.4,1054.8 1286.4,1054.9 C1287.4,1054.9 1288.4,1055.0 1289.4,1055.0 C1290.4,1055.1 1291.4,1055.1 1292.4,1055.2 C1293.4,1055.2 1294.4,1055.3 1295.4,1055.3 C1296.4,1055.4 1297.4,1055.4 1298.4,1055.5 C1299.4,1055.5 1300.4,1055.6 1301.4,1055.6 C1302.4,1055.7 1303.4,1055.7 1304.4,1055.8 C1305.4,1055.8 1306.4,1055.9 1307.4,1055.9 C1308.4,1056.0 1309.4,1056.0 1310.4,1056.1 C1311.4,1056.1 1312.4,1056.2 1313.4,1056.2 C1314.4,1056.3 1315.4,1056.3 1316.4,1056.4 C1317.4,1056.4 1318.4,1056.5 1319.4,1056.5 C1320.4,1056.6 1321.4,1056.6 1322.4,1056.6 C1323.4,1056.7 1324.4,1056.7 1325.4,1056.8 C1326.4,1056.8 1327.4,1056.9 1328.4,1056.9 C1329.4,1057.0 1330.4,1057.0 1331.4,1057.1 C1332.4,1057.1 1333.4,1057.2 1334.4,1057.2 C1335.4,1057.3 1336.4,1057.3 1337.4,1057.4 C1338.4,1057.4 1339.4,1057.5 1340.4,1057.5 C1341.4,1057.6 1342.4,1057.6 1343.4,1057.7 C1344.4,1057.7 1345.4,1057.8 1346.4,1057.8 C1347.4,1057.9 1348.4,1057.9 1349.4,1058.0 C1350.4,1058.0 1351.3,1058.0 1352.3,1058.1 C1353.3,1058.1 1354.3,1058.2 1355.3,1058.2 C1356.3,1058.3 1357.3,1058.3 1358.2,1058.4 C1359.2,1058.4 1360.2,1058.5 1361.2,1058.5 C1362.1,1058.6 1363.1,1058.6 1364.1,1058.7 C1365.1,1058.7 1366.1,1058.8 1367.1,1058.8 C1368.1,1058.9 1369.8,1058.9 1370.3,1059.0 C1370.9,1059.0 1370.3,1059.0 1370.3,1059.0" stroke="#8000E2"/>
<path d="M108.0,439.0 C108.5,438.8 109.9,438.1 110.8,437.7 C111.7,437.3 112.6,436.9 113.5,436.5 C114.4,436.1 115.3,435.7 116.2,435.2 C117.0,434.7 117.9,434.2 118.7,433.6 C119.6,433.1 120.4,432.6 121.3,432.1 C122.1,431.5 123.0,431.0 123.8,430.5 C124.6,429.9 125.4,429.3 126.2,428.7 C127.0,428.1 127.8,427.5 128.5,426.8 C129.3,426.2 130.0,425.5 130.7,424.8 C131.5,424.1 132.2,423.4 132.9,422.7 C133.6,422.0 134.3,421.3 135.0,420.6 C135.7,419.9 136.5,419.2 137.2,418.6 C137.9,417.9 138.7,417.2 139.4,416.6 C140.2,415.9 140.9,415.3 141.7,414.6 C142.5,414.0 143.2,413.3 144.0,412.7 C144.8,412.1 145.6,411.5 146.4,411.0 C147.2,410.4 148.1,409.9 148.9,409.5 C149.8,409.0 150.7,408.6 151.6,408.3 C152.5,408.0 153.5,407.7 154.4,407.5 C155.4,407.2 156.4,407.0 157.3,406.9 C158.3,406.8 159.3,406.7 160.3,406.7 C161.2,406.6 162.2,406.7 163.2,406.8 C164.2,406.9 165.2,407.0 166.1,407.1 C167.1,407.3 168.1,407.4 169.1,407.5 C170.1,407.6 171.1,407.7 172.1,407.7 C173.1,407.7 174.1,407.7 175.1,407.7 C176.1,407.6 177.0,407.6 178.0,407.5 C179.0,407.3 180.0,407.2 181.0,407.0 C181.9,406.8 182.9,406.6 183.8,406.3 C184.8,406.0 185.7,405.7 186.7,405.4 C187.6,405.1 188.6,404.7 189.5,404.4 C190.5,404.1 191.4,403.7 192.3,403.4 C193.3,403.1 194.2,402.8 195.2,402.6 C196.2,402.3 197.1,402.1 198.1,402.0 C199.0,401.8 200.0,401.7 201.0,401.7 C201.9,401.8 202.9,401.9 203.8,402.1 C204.7,402.3 205.6,402.6 206.4,403.0 C207.2,403.4 208.0,404.0 208.7,404.6 C209.5,405.2 210.2,405.9 210.8,406.6 C211.5,407.3 212.1,408.1 212.8,408.8 C213.4,409.6 214.0,410.4 214.5,411.2 C215.1,412.0 215.6,412.9 216.2,413.7 C216.7,414.6 217.2,415.4 217.7,416.3 C218.2,417.2 218.7,418.0 219.2,418.9 C219.7,419.8 220.2,420.6 220.7,421.5 C221.2,422.4 221.7,423.2 222.2,424.1 C222.7,425.0 223.1,425.9 223.6,426.7 C224.1,427.6 224.6,428.5 225.1,429.4 C225.6,430.2 226.0,431.1 226.5,432.0 C227.0,432.9 227.5,433.8 227.9,434.6 C228.4,435.5 228.9,436.4 229.4,437.3 C229.9,438.1 230.3,439.0 230.8,439.9 C231.3,440.8 231.7,441.7 232.2,442.6 C232.6,443.5 233.1,444.4 233.5,445.3 C233.9,446.2 234.3,447.1 234.7,448.0 C235.1,448.9 235.5,449.9 235.8,450.8 C236.2,451.7 236.6,452.6 236.9,453.6 C237.3,454.5 237.6,455.4 238.0,456.4 C238.4,457.3 238.7,458.2 239.1,459.2 C239.5,460.1 239.9,461.0 240.3,461.9 C240.6,462.8 241.0,463.8 241.4,464.7 C241.8,465.6 242.2,466.5 242.6,467.4 C243.0,468.4 243.4,469.3 243.9,470.2 C244.3,471.1 244.7,472.0 245.1,472.9 C245.6,473.8 246.0,474.6 246.5,475.5 C247.0,476.4 247.5,477.3 248.0,478.1 C248.5,479.0 249.1,479.8 249.6,480.6 C250.2,481.4 250.7,482.3 251.3,483.1 C251.9,483.8 252.5,484.6 253.2,485.4 C253.8,486.1 254.5,486.9 255.2,487.6 C255.8,488.3 256.5,489.1 257.2,489.8 C257.9,490.5 258.6,491.2 259.3,491.9 C260.1,492.5 260.8,493.2 261.5,493.9 C262.3,494.6 263.0,495.2 263.8,495.9 C264.5,496.5 265.3,497.2 266.1,497.8 C266.8,498.4 267.6,499.0 268.4,499.6 C269.2,500.2 270.0,500.8 270.8,501.4 C271.6,502.0 272.4,502.6 273.2,503.2 C274.1,503.7 274.9,504.3 275.7,504.8 C276.5,505.4 277.4,506.0 278.2,506.5 C279.0,507.1 279.9,507.6 280.7,508.2 C281.5,508.7 282.4,509.3 283.2,509.8 C284.0,510.4 284.9,510.9 285.7,511.5 C286.5,512.1 287.3,512.7 288.1,513.2 C288.9,513.8 289.7,514.4 290.5,515.0 C291.3,515.7 292.0,516.3 292.8,516.9 C293.5,517.6 294.3,518.2 295.0,518.9 C295.7,519.6 296.5,520.3 297.2,521.0 C297.9,521.6 298.6,522.4 299.3,523.1 C299.9,523.8 300.6,524.5 301.3,525.2 C302.0,525.9 302.7,526.7 303.4,527.4 C304.0,528.1 304.7,528.8 305.4,529.5 C306.2,530.2 306.9,530.8 307.6,531.5 C308.3,532.2 309.1,532.8 309.9,533.4 C310.6,534.0 311.4,534.7 312.2,535.2 C313.0,535.8 313.8,536.4 314.6,537.0 C315.4,537.6 316.3,538.1 317.1,538.6 C317.9,539.2 318.8,539.7 319.6,540.3 C320.5,540.8 321.3,541.3 322.2,541.8 C323.0,542.3 323.9,542.8 324.8,543.3 C325.6,543.7 326.5,544.2 327.4,544.7 C328.3,545.1 329.2,545.6 330.1,546.0 C331.0,546.5 331.9,546.9 332.8,547.3 C333.7,547.7 334.6,548.2 335.5,548.6 C336.4,549.0 337.3,549.4 338.2,549.8 C339.2,550.2 340.1,550.5 341.0,550.9 C341.9,551.3 342.9,551.7 343.8,552.1 C344.7,552.4 345.6,552.8 346.6,553.1 C347.5,553.5 348.4,553.8 349.4,554.2 C350.3,554.5 351.3,554.9 352.2,555.2 C353.1,555.6 354.1,555.9 355.0,556.3 C355.9,556.6 356.9,556.9 357.8,557.3 C358.8,557.6 359.7,558.0 360.6,558.3 C361.6,558.7 362.5,559.0 363.4,559.4 C364.4,559.8 365.3,560.1 366.2,560.5 C367.2,560.8 368.1,561.2 369.0,561.6 C370.0,561.9 370.9,562.3 371.8,562.7 C372.8,563.0 373.7,563.4 374.6,563.8 C375.5,564.2 376.5,564.5 377.4,564.9 C378.3,565.3 379.2,565.7 380.2,566.0 C381.1,566.4 382.0,566.8 382.9,567.2 C383.9,567.6 384.8,567.9 385.7,568.3 C386.6,568.7 387.6,569.1 388.5,569.5 C389.4,569.9 390.3,570.2 391.3,570.6 C392.2,571.0 393.1,571.4 394.0,571.8 C394.9,572.2 395.8,572.6 396.7,573.1 C397.6,573.5 398.5,573.9 399.4,574.4 C400.3,574.8 401.2,575.2 402.1,575.7 C403.0,576.2 403.9,576.6 404.7,577.1 C405.6,577.6 406.5,578.1 407.3,578.6 C408.2,579.1 409.0,579.6 409.9,580.1 C410.7,580.7 411.6,581.2 412.4,581.8 C413.2,582.3 414.0,582.9 414.8,583.5 C415.7,584.0 416.5,584.6 417.3,585.2 C418.1,585.8 418.8,586.4 419.6,587.1 C420.4,587.7 421.2,588.3 422.0,588.9 C422.7,589.6 423.5,590.2 424.3,590.8 C425.1,591.5 425.8,592.1 426.6,592.7 C427.4,593.4 428.1,594.0 428.9,594.7 C429.6,595.3 430.4,596.0 431.1,596.6 C431.9,597.3 432.6,598.0 433.3,598.6 C434.1,599.3 434.8,600.0 435.5,600.7 C436.2,601.4 436.9,602.1 437.5,602.9 C438.2,603.6 438.9,604.3 439.5,605.1 C440.2,605.8 440.8,606.6 441.4,607.4 C442.0,608.2 442.6,609.0 443.2,609.8 C443.8,610.6 444.4,611.4 445.0,612.2 C445.6,613.0 446.1,613.8 446.7,614.6 C447.3,615.4 447.9,616.2 448.4,617.1 C449.0,617.9 449.5,618.7 450.1,619.6 C450.7,620.4 451.2,621.2 451.8,622.1 C452.3,622.9 452.9,623.7 453.4,624.6 C453.9,625.4 454.5,626.3 455.0,627.1 C455.5,628.0 456.1,628.8 456.6,629.7 C457.1,630.5 457.6,631.4 458.1,632.2 C458.7,633.1 459.2,633.9 459.7,634.8 C460.2,635.6 460.7,636.5 461.2,637.4 C461.7,638.2 462.2,639.1 462.7,640.0 C463.2,640.8 463.7,641.7 464.2,642.6 C464.7,643.4 465.2,644.3 465.6,645.2 C466.1,646.1 466.6,647.0 467.0,647.8 C467.5,648.7 468.0,649.6 468.4,650.5 C468.9,651.4 469.3,652.3 469.8,653.2 C470.2,654.1 470.7,655.0 471.1,655.9 C471.6,656.8 472.0,657.7 472.4,658.6 C472.9,659.5 473.3,660.4 473.7,661.3 C474.2,662.2 474.6,663.1 475.0,664.0 C475.4,664.9 475.8,665.8 476.2,666.7 C476.6,667.6 477.0,668.6 477.4,669.5 C477.8,670.4 478.2,671.3 478.5,672.2 C478.9,673.2 479.3,674.1 479.7,675.0 C480.1,675.9 480.4,676.9 480.8,677.8 C481.2,678.7 481.6,679.6 481.9,680.6 C482.3,681.5 482.7,682.4 483.0,683.4 C483.4,684.3 483.8,685.2 484.2,686.1 C484.5,687.1 484.9,688.0 485.3,688.9 C485.6,689.9 486.0,690.8 486.4,691.7 C486.8,692.6 487.1,693.6 487.5,694.5 C487.9,695.4 488.3,696.4 488.6,697.3 C489.0,698.2 489.4,699.1 489.7,700.1 C490.1,701.0 490.5,701.9 490.9,702.9 C491.2,703.8 491.6,704.7 492.0,705.6 C492.3,706.6 492.7,707.5 493.1,708.4 C493.5,709.4 493.8,710.3 494.2,711.2 C494.6,712.1 494.9,713.1 495.3,714.0 C495.7,714.9 496.1,715.9 496.4,716.8 C496.8,717.7 497.2,718.6 497.5,719.6 C497.9,720.5 498.3,721.4 498.6,722.4 C499.0,723.3 499.4,724.2 499.8,725.1 C500.1,726.1 500.5,727.0 500.9,727.9 C501.2,728.9 501.6,729.8 502.0,730.7 C502.4,731.6 502.7,732.6 503.1,733.5 C503.5,734.4 503.8,735.4 504.2,736.3 C504.6,737.2 504.9,738.1 505.3,739.1 C505.7,740.0 506.0,740.9 506.4,741.9 C506.8,742.8 507.1,743.7 507.5,744.7 C507.8,745.6 508.2,746.5 508.5,747.5 C508.9,748.4 509.2,749.3 509.6,750.3 C509.9,751.2 510.3,752.2 510.6,753.1 C510.9,754.0 511.3,755.0 511.6,755.9 C512.0,756.9 512.3,757.8 512.6,758.8 C512.9,759.7 513.3,760.6 513.6,761.6 C513.9,762.5 514.2,763.5 514.5,764.4 C514.9,765.4 515.2,766.3 515.5,767.3 C515.8,768.2 516.1,769.2 516.4,770.1 C516.7,771.1 517.0,772.1 517.3,773.0 C517.5,774.0 517.8,774.9 518.1,775.9 C518.4,776.8 518.7,777.8 519.0,778.8 C519.3,779.7 519.6,780.7 519.9,781.6 C520.2,782.6 520.5,783.5 520.8,784.5 C521.1,785.4 521.4,786.4 521.7,787.3 C522.0,788.3 522.3,789.2 522.6,790.2 C522.9,791.1 523.3,792.1 523.6,793.0 C523.9,794.0 524.2,794.9 524.6,795.9 C524.9,796.8 525.2,797.8 525.5,798.7 C525.9,799.6 526.2,800.6 526.5,801.5 C526.8,802.5 527.1,803.4 527.5,804.4 C527.8,805.3 528.1,806.3 528.4,807.2 C528.7,808.2 529.0,809.1 529.3,810.1 C529.6,811.0 529.9,812.0 530.2,812.9 C530.5,813.9 530.8,814.9 531.1,815.8 C531.4,816.8 531.7,817.7 532.0,818.7 C532.3,819.6 532.6,820.6 532.9,821.5 C533.2,822.5 533.5,823.4 533.8,824.4 C534.1,825.4 534.4,826.3 534.7,827.3 C535.0,828.2 535.3,829.2 535.6,830.1 C536.0,831.0 536.3,832.0 536.6,832.9 C537.0,833.9 537.3,834.8 537.6,835.7 C538.0,836.7 538.3,837.6 538.7,838.6 C539.1,839.5 539.4,840.4 539.8,841.4 C540.1,842.3 540.5,843.2 540.9,844.1 C541.2,845.1 541.6,846.0 542.0,846.9 C542.3,847.9 542.7,848.8 543.1,849.7 C543.5,850.6 543.8,851.6 544.2,852.5 C544.6,853.4 544.9,854.4 545.3,855.3 C545.7,856.2 546.1,857.1 546.4,858.1 C546.8,859.0 547.2,859.9 547.5,860.9 C547.9,861.8 548.3,862.7 548.7,863.6 C549.0,864.6 549.4,865.5 549.8,866.4 C550.2,867.4 550.5,868.3 550.9,869.2 C551.3,870.1 551.7,871.1 552.1,872.0 C552.5,872.9 552.8,873.8 553.2,874.7 C553.6,875.6 554.0,876.6 554.5,877.5 C554.9,878.4 555.3,879.3 555.7,880.2 C556.1,881.1 556.6,882.0 557.0,882.9 C557.5,883.8 557.9,884.7 558.4,885.6 C558.8,886.4 559.3,887.3 559.8,888.2 C560.2,889.1 560.7,890.0 561.2,890.9 C561.6,891.7 562.1,892.6 562.6,893.5 C563.1,894.4 563.6,895.2 564.0,896.1 C564.5,897.0 565.0,897.9 565.5,898.7 C566.0,899.6 566.5,900.5 567.0,901.3 C567.5,902.2 568.0,903.1 568.5,903.9 C569.0,904.8 569.6,905.6 570.1,906.5 C570.6,907.3 571.1,908.2 571.7,909.0 C572.2,909.9 572.7,910.7 573.3,911.6 C573.8,912.4 574.3,913.2 574.9,914.1 C575.4,914.9 576.0,915.8 576.5,916.6 C577.1,917.4 577.6,918.3 578.2,919.1 C578.7,919.9 579.3,920.8 579.9,921.6 C580.4,922.4 581.0,923.2 581.6,924.0 C582.2,924.8 582.7,925.6 583.3,926.4 C583.9,927.2 584.5,928.0 585.2,928.8 C585.8,929.6 586.4,930.4 587.0,931.1 C587.7,931.9 588.3,932.7 589.0,933.4 C589.6,934.2 590.3,935.0 590.9,935.7 C591.6,936.5 592.2,937.2 592.9,938.0 C593.6,938.7 594.2,939.4 594.9,940.2 C595.6,940.9 596.2,941.7 596.9,942.4 C597.6,943.1 598.3,943.9 599.0,944.6 C599.6,945.3 600.3,946.0 601.0,946.8 C601.7,947.5 602.4,948.2 603.1,948.9 C603.9,949.6 604.6,950.2 605.3,950.9 C606.1,951.6 606.8,952.2 607.6,952.9 C608.3,953.5 609.1,954.1 609.9,954.8 C610.6,955.4 611.4,956.0 612.2,956.6 C613.0,957.2 613.8,957.8 614.6,958.3 C615.5,958.9 616.3,959.5 617.1,960.0 C617.9,960.6 618.8,961.1 619.6,961.7 C620.5,962.2 621.3,962.7 622.2,963.2 C623.0,963.7 623.9,964.2 624.8,964.7 C625.6,965.2 626.5,965.6 627.4,966.1 C628.3,966.5 629.2,967.0 630.1,967.4 C631.0,967.8 631.9,968.3 632.8,968.7 C633.7,969.1 634.6,969.5 635.5,970.0 C636.4,970.4 637.3,970.8 638.2,971.2 C639.2,971.6 640.1,972.0 641.0,972.4 C641.9,972.8 642.8,973.2 643.7,973.5 C644.7,973.9 645.6,974.3 646.5,974.7 C647.5,975.0 648.4,975.4 649.3,975.7 C650.3,976.0 651.2,976.4 652.2,976.7 C653.1,977.0 654.0,977.3 655.0,977.6 C656.0,977.9 656.9,978.2 657.9,978.5 C658.8,978.8 659.8,979.0 660.7,979.3 C661.7,979.6 662.7,979.9 663.6,980.1 C664.6,980.4 665.5,980.7 666.5,981.0 C667.5,981.2 668.4,981.5 669.4,981.8 C670.4,982.0 671.3,982.3 672.3,982.6 C673.3,982.8 674.2,983.1 675.2,983.4 C676.1,983.6 677.1,983.9 678.1,984.2 C679.0,984.5 680.0,984.7 681.0,985.0 C681.9,985.3 682.9,985.5 683.8,985.8 C684.8,986.1 685.8,986.4 686.7,986.7 C687.7,986.9 688.6,987.2 689.6,987.5 C690.6,987.8 691.5,988.1 692.5,988.4 C693.4,988.7 694.4,989.0 695.3,989.3 C696.3,989.6 697.2,989.9 698.2,990.2 C699.1,990.5 700.1,990.8 701.0,991.1 C702.0,991.4 702.9,991.7 703.9,992.0 C704.8,992.4 705.8,992.7 706.7,993.0 C707.7,993.3 708.6,993.6 709.6,993.9 C710.5,994.2 711.5,994.6 712.4,994.9 C713.4,995.2 714.3,995.5 715.3,995.8 C716.2,996.1 717.2,996.4 718.1,996.7 C719.1,997.0 720.0,997.3 721.0,997.6 C721.9,997.9 722.9,998.2 723.9,998.5 C724.8,998.8 725.8,999.1 726.7,999.4 C727.7,999.6 728.7,999.9 729.6,1000.2 C730.6,1000.4 731.6,1000.7 732.5,1000.9 C733.5,1001.2 734.5,1001.4 735.4,1001.6 C736.4,1001.9 737.4,1002.1 738.3,1002.3 C739.3,1002.6 740.3,1002.8 741.3,1003.0 C742.2,1003.2 743.2,1003.4 744.2,1003.7 C745.2,1003.9 746.1,1004.1 747.1,1004.3 C748.1,1004.5 749.1,1004.8 750.1,1005.0 C751.0,1005.2 752.0,1005.4 753.0,1005.6 C754.0,1005.8 754.9,1006.0 755.9,1006.2 C756.9,1006.4 757.9,1006.6 758.9,1006.8 C759.8,1007.0 760.8,1007.2 761.8,1007.4 C762.8,1007.5 763.8,1007.7 764.8,1007.9 C765.7,1008.1 766.7,1008.2 767.7,1008.4 C768.7,1008.6 769.7,1008.8 770.7,1008.9 C771.7,1009.1 772.6,1009.3 773.6,1009.4 C774.6,1009.6 775.6,1009.8 776.6,1009.9 C777.6,1010.1 778.6,1010.3 779.5,1010.4 C780.5,1010.6 781.5,1010.8 782.5,1010.9 C783.5,1011.1 784.5,1011.3 785.5,1011.4 C786.4,1011.6 787.4,1011.8 788.4,1011.9 C789.4,1012.1 790.4,1012.3 791.4,1012.4 C792.4,1012.6 793.3,1012.8 794.3,1012.9 C795.3,1013.1 796.3,1013.3 797.3,1013.5 C798.3,1013.6 799.3,1013.8 800.2,1014.0 C801.2,1014.1 802.2,1014.3 803.2,1014.5 C804.2,1014.6 805.2,1014.8 806.2,1015.0 C807.1,1015.2 808.1,1015.3 809.1,1015.5 C810.1,1015.7 811.1,1015.8 812.1,1016.0 C813.0,1016.2 814.0,1016.4 815.0,1016.5 C816.0,1016.7 817.0,1016.9 818.0,1017.0 C819.0,1017.2 819.9,1017.4 820.9,1017.6 C821.9,1017.7 822.9,1017.9 823.9,1018.1 C824.9,1018.3 825.9,1018.4 826.8,1018.6 C827.8,1018.8 828.8,1019.0 829.8,1019.1 C830.8,1019.3 831.8,1019.5 832.7,1019.7 C833.7,1019.9 834.7,1020.0 835.7,1020.2 C836.7,1020.4 837.7,1020.6 838.6,1020.8 C839.6,1021.0 840.6,1021.1 841.6,1021.3 C842.6,1021.5 843.6,1021.7 844.5,1021.9 C845.5,1022.1 846.5,1022.2 847.5,1022.4 C848.5,1022.6 849.5,1022.8 850.4,1023.0 C851.4,1023.1 852.4,1023.3 853.4,1023.5 C854.4,1023.7 855.4,1023.8 856.3,1024.0 C857.3,1024.2 858.3,1024.3 859.3,1024.5 C860.3,1024.6 861.3,1024.8 862.3,1024.9 C863.3,1025.1 864.3,1025.2 865.2,1025.3 C866.2,1025.5 867.2,1025.6 868.2,1025.7 C869.2,1025.8 870.2,1026.0 871.2,1026.1 C872.2,1026.2 873.2,1026.3 874.2,1026.4 C875.2,1026.6 876.2,1026.7 877.1,1026.8 C878.1,1026.9 879.1,1027.0 880.1,1027.2 C881.1,1027.3 882.1,1027.4 883.1,1027.5 C884.1,1027.6 885.1,1027.7 886.1,1027.8 C887.1,1028.0 888.1,1028.1 889.1,1028.2 C890.1,1028.3 891.1,1028.4 892.0,1028.5 C893.0,1028.7 894.0,1028.8 895.0,1028.9 C896.0,1029.0 897.0,1029.1 898.0,1029.2 C899.0,1029.3 900.0,1029.5 901.0,1029.6 C902.0,1029.7 903.0,1029.8 904.0,1029.9 C905.0,1030.0 906.0,1030.1 907.0,1030.2 C907.9,1030.3 908.9,1030.4 909.9,1030.5 C910.9,1030.6 911.9,1030.7 912.9,1030.8 C913.9,1030.9 914.9,1031.0 915.9,1031.1 C916.9,1031.2 917.9,1031.3 918.9,1031.4 C919.9,1031.5 920.9,1031.6 921.9,1031.6 C922.9,1031.7 923.9,1031.8 924.9,1031.9 C925.9,1032.0 926.9,1032.1 927.9,1032.1 C928.9,1032.2 929.9,1032.3 930.9,1032.4 C931.8,1032.5 932.8,1032.6 933.8,1032.6 C934.8,1032.7 935.8,1032.8 936.8,1032.9 C937.8,1033.0 938.8,1033.1 939.8,1033.1 C940.8,1033.2 941.8,1033.3 942.8,1033.4 C943.8,1033.5 944.8,1033.6 945.8,1033.6 C946.8,1033.7 947.8,1033.8 948.8,1033.9 C949.8,1034.0 950.8,1034.0 951.8,1034.1 C952.8,1034.2 953.8,1034.3 954.8,1034.4 C955.8,1034.4 956.8,1034.5 957.8,1034.6 C958.8,1034.7 959.8,1034.7 960.8,1034.8 C961.8,1034.9 962.7,1034.9 963.7,1035.0 C964.7,1035.1 965.7,1035.1 966.7,1035.2 C967.7,1035.3 968.7,1035.3 969.7,1035.4 C970.7,1035.4 971.7,1035.5 972.7,1035.6 C973.7,1035.6 974.7,1035.7 975.7,1035.7 C976.7,1035.8 977.7,1035.9 978.7,1035.9 C979.7,1036.0 980.7,1036.0 981.7,1036.1 C982.7,1036.1 983.7,1036.2 984.7,1036.3 C985.7,1036.3 986.7,1036.4 987.7,1036.4 C988.7,1036.5 989.7,1036.5 990.7,1036.6 C991.7,1036.7 992.7,1036.7 993.7,1036.8 C994.7,1036.8 995.7,1036.9 996.7,1036.9 C997.7,1037.0 998.7,1037.1 999.7,1037.1 C1000.7,1037.2 1001.7,1037.2 1002.7,1037.3 C1003.7,1037.3 1004.7,1037.4 1005.7,1037.5 C1006.7,1037.5 1007.7,1037.6 1008.7,1037.6 C1009.7,1037.7 1010.7,1037.7 1011.7,1037.8 C1012.7,1037.9 1013.7,1037.9 1014.7,1038.0 C1015.7,1038.0 1016.7,1038.1 1017.7,1038.1 C1018.7,1038.2 1019.7,1038.2 1020.7,1038.3 C1021.7,1038.3 1022.6,1038.4 1023.6,1038.4 C1024.6,1038.5 1025.6,1038.6 1026.6,1038.6 C1027.6,1038.7 1028.6,1038.7 1029.6,1038.8 C1030.6,1038.8 1031.6,1038.9 1032.6,1038.9 C1033.6,1039.0 1034.6,1039.0 1035.6,1039.1 C1036.6,1039.1 1037.6,1039.2 1038.6,1039.3 C1039.6,1039.3 1040.6,1039.4 1041.6,1039.4 C1042.6,1039.5 1043.6,1039.5 1044.6,1039.6 C1045.6,1039.6 1046.6,1039.7 1047.6,1039.7 C1048.6,1039.8 1049.6,1039.8 1050.6,1039.9 C1051.6,1039.9 1052.6,1040.0 1053.6,1040.1 C1054.6,1040.1 1055.6,1040.2 1056.6,1040.2 C1057.6,1040.3 1058.6,1040.3 1059.6,1040.4 C1060.6,1040.4 1061.6,1040.5 1062.6,1040.5 C1063.6,1040.6 1064.6,1040.7 1065.6,1040.7 C1066.6,1040.8 1067.6,1040.8 1068.6,1040.9 C1069.6,1040.9 1070.6,1041.0 1071.6,1041.1 C1072.6,1041.1 1073.6,1041.2 1074.6,1041.2 C1075.6,1041.3 1076.6,1041.3 1077.6,1041.4 C1078.6,1041.5 1079.6,1041.5 1080.6,1041.6 C1081.6,1041.6 1082.6,1041.7 1083.6,1041.7 C1084.6,1041.8 1085.6,1041.8 1086.6,1041.9 C1087.6,1041.9 1088.6,1042.0 1089.5,1042.0 C1090.5,1042.1 1091.5,1042.1 1092.5,1042.2 C1093.5,1042.2 1094.5,1042.3 1095.5,1042.3 C1096.5,1042.3 1097.5,1042.4 1098.5,1042.4 C1099.5,1042.5 1100.5,1042.5 1101.5,1042.5 C1102.5,1042.6 1103.5,1042.6 1104.5,1042.7 C1105.5,1042.7 1106.5,1042.7 1107.5,1042.8 C1108.5,1042.8 1109.5,1042.9 1110.5,1042.9 C1111.5,1042.9 1112.5,1043.0 1113.5,1043.0 C1114.5,1043.1 1115.5,1043.1 1116.5,1043.1 C1117.5,1043.2 1118.5,1043.2 1119.5,1043.3 C1120.5,1043.3 1121.5,1043.3 1122.5,1043.4 C1123.5,1043.4 1124.5,1043.5 1125.5,1043.5 C1126.5,1043.5 1127.5,1043.6 1128.5,1043.6 C1129.5,1043.7 1130.5,1043.7 1131.5,1043.7 C1132.5,1043.8 1133.5,1043.8 1134.5,1043.9 C1135.5,1043.9 1136.5,1043.9 1137.5,1044.0 C1138.5,1044.0 1139.5,1044.0 1140.5,1044.1 C1141.5,1044.1 1142.5,1044.2 1143.5,1044.2 C1144.5,1044.2 1145.5,1044.3 1146.5,1044.3 C1147.5,1044.3 1148.5,1044.4 1149.5,1044.4 C1150.5,1044.4 1151.5,1044.5 1152.5,1044.5 C1153.5,1044.5 1154.5,1044.6 1155.5,1044.6 C1156.5,1044.7 1157.5,1044.7 1158.5,1044.7 C1159.5,1044.8 1160.5,1044.8 1161.5,1044.8 C1162.5,1044.9 1163.5,1044.9 1164.5,1044.9 C1165.5,1045.0 1166.5,1045.0 1167.5,1045.0 C1168.5,1045.1 1169.5,1045.1 1170.5,1045.2 C1171.5,1045.2 1172.5,1045.2 1173.5,1045.3 C1174.5,1045.3 1175.5,1045.3 1176.5,1045.4 C1177.5,1045.4 1178.5,1045.4 1179.5,1045.5 C1180.5,1045.5 1181.5,1045.6 1182.5,1045.6 C1183.5,1045.6 1184.5,1045.7 1185.5,1045.7 C1186.5,1045.7 1187.5,1045.8 1188.5,1045.8 C1189.5,1045.9 1190.5,1045.9 1191.5,1045.9 C1192.5,1046.0 1193.5,1046.0 1194.5,1046.1 C1195.5,1046.1 1196.5,1046.1 1197.5,1046.2 C1198.5,1046.2 1199.5,1046.3 1200.5,1046.3 C1201.5,1046.3 1202.5,1046.4 1203.5,1046.4 C1204.5,1046.5 1205.5,1046.5 1206.5,1046.5 C1207.5,1046.6 1208.5,1046.6 1209.5,1046.7 C1210.5,1046.7 1211.5,1046.7 1212.5,1046.8 C1213.5,1046.8 1214.5,1046.9 1215.5,1046.9 C1216.5,1046.9 1217.5,1047.0 1218.5,1047.0 C1219.5,1047.1 1220.5,1047.1 1221.5,1047.1 C1222.4,1047.2 1223.4,1047.2 1224.4,1047.3 C1225.4,1047.3 1226.4,1047.3 1227.4,1047.4 C1228.4,1047.4 1229.4,1047.5 1230.4,1047.5 C1231.4,1047.6 1232.4,1047.6 1233.4,1047.6 C1234.4,1047.7 1235.4,1047.7 1236.4,1047.8 C1237.4,1047.8 1238.4,1047.9 1239.4,1047.9 C1240.4,1048.0 1241.4,1048.0 1242.4,1048.1 C1243.4,1048.1 1244.4,1048.2 1245.4,1048.2 C1246.4,1048.3 1247.4,1048.3 1248.4,1048.4 C1249.4,1048.4 1250.4,1048.5 1251.4,1048.5 C1252.4,1048.5 1253.4,1048.6 1254.4,1048.6 C1255.4,1048.7 1256.4,1048.7 1257.4,1048.8 C1258.4,1048.8 1259.4,1048.9 1260.4,1048.9 C1261.4,1049.0 1262.4,1049.0 1263.4,1049.1 C1264.4,1049.1 1265.4,1049.2 1266.4,1049.2 C1267.4,1049.3 1268.4,1049.3 1269.4,1049.4 C1270.4,1049.4 1271.4,1049.5 1272.4,1049.5 C1273.4,1049.6 1274.4,1049.6 1275.4,1049.7 C1276.4,1049.7 1277.4,1049.7 1278.4,1049.8 C1279.4,1049.8 1280.4,1049.9 1281.4,1049.9 C1282.4,1050.0 1283.4,1050.0 1284.4,1050.1 C1285.4,1050.1 1286.4,1050.2 1287.4,1050.2 C1288.4,1050.3 1289.4,1050.3 1290.4,1050.4 C1291.4,1050.4 1292.4,1050.4 1293.4,1050.5 C1294.4,1050.5 1295.4,1050.6 1296.4,1050.6 C1297.4,1050.7 1298.4,1050.7 1299.4,1050.8 C1300.4,1050.8 1301.4,1050.9 1302.4,1050.9 C1303.4,1051.0 1304.4,1051.0 1305.4,1051.0 C1306.4,1051.1 1307.4,1051.1 1308.4,1051.2 C1309.4,1051.2 1310.4,1051.3 1311.4,1051.3 C1312.4,1051.4 1313.4,1051.4 1314.3,1051.5 C1315.3,1051.5 1316.3,1051.5 1317.3,1051.6 C1318.3,1051.6 1319.3,1051.7 1320.3,1051.7 C1321.3,1051.8 1322.3,1051.8 1323.3,1051.8 C1324.3,1051.9 1325.3,1051.9 1326.3,1051.9 C1327.3,1052.0 1328.3,1052.0 1329.3,1052.1 C1330.3,1052.1 1331.3,1052.1 1332.3,1052.1 C1333.3,1052.2 1334.3,1052.2 1335.3,1052.2 C1336.3,1052.3 1337.3,1052.3 1338.3,1052.3 C1339.3,1052.4 1340.3,1052.4 1341.3,1052.4 C1342.3,1052.4 1343.3,1052.5 1344.3,1052.5 C1345.3,1052.5 1346.3,1052.5 1347.3,1052.6 C1348.3,1052.6 1349.3,1052.6 1350.3,1052.6 C1351.3,1052.7 1352.3,1052.7 1353.3,1052.7 C1354.3,1052.8 1355.3,1052.8 1356.3,1052.8 C1357.2,1052.8 1358.2,1052.9 1359.2,1052.9 C1360.2,1052.9 1361.1,1052.9 1362.1,1053.0 C1363.1,1053.0 1364.0,1053.0 1365.1,1053.0 C1366.1,1053.1 1367.3,1053.1 1368.1,1053.1 C1369.0,1053.1 1370.0,1053.2 1370.3,1053.2" stroke="#FF7070"/>
<path d="M108.0,432.5 C108.5,432.3 109.8,431.6 110.7,431.1 C111.6,430.7 112.5,430.3 113.4,429.8 C114.3,429.4 115.2,428.9 116.0,428.4 C116.9,427.9 117.7,427.3 118.5,426.7 C119.3,426.1 120.1,425.6 120.9,425.0 C121.7,424.4 122.5,423.8 123.3,423.2 C124.1,422.6 124.9,421.9 125.7,421.3 C126.4,420.7 127.2,420.0 127.9,419.4 C128.7,418.7 129.4,418.0 130.1,417.3 C130.8,416.6 131.5,415.9 132.2,415.2 C132.9,414.5 133.6,413.8 134.4,413.1 C135.1,412.4 135.8,411.7 136.5,411.0 C137.2,410.3 137.9,409.6 138.6,408.9 C139.3,408.2 140.1,407.5 140.8,406.8 C141.5,406.1 142.3,405.4 143.0,404.8 C143.7,404.1 144.5,403.4 145.2,402.8 C146.0,402.2 146.7,401.6 147.6,401.1 C148.4,400.6 149.2,400.1 150.1,399.8 C151.0,399.4 151.9,399.2 152.9,399.0 C153.8,398.7 154.8,398.6 155.8,398.5 C156.7,398.4 157.7,398.4 158.7,398.4 C159.7,398.4 160.7,398.4 161.7,398.5 C162.7,398.6 163.6,398.7 164.6,398.8 C165.6,398.9 166.6,399.1 167.6,399.2 C168.6,399.3 169.6,399.4 170.6,399.5 C171.5,399.6 172.5,399.6 173.5,399.6 C174.5,399.6 175.5,399.5 176.5,399.4 C177.5,399.4 178.5,399.3 179.5,399.1 C180.4,398.9 181.4,398.8 182.4,398.5 C183.3,398.3 184.3,398.0 185.2,397.7 C186.2,397.4 187.1,397.1 188.1,396.7 C189.0,396.4 189.9,396.1 190.9,395.7 C191.8,395.4 192.8,395.1 193.7,394.8 C194.7,394.5 195.6,394.3 196.6,394.1 C197.6,393.8 198.5,393.6 199.5,393.5 C200.5,393.4 201.5,393.4 202.4,393.5 C203.3,393.5 204.3,393.6 205.2,393.9 C206.1,394.2 206.9,394.5 207.7,395.0 C208.5,395.5 209.3,396.1 210.0,396.7 C210.7,397.3 211.4,398.0 212.1,398.8 C212.7,399.5 213.4,400.3 214.0,401.0 C214.6,401.8 215.1,402.7 215.7,403.5 C216.2,404.3 216.7,405.2 217.2,406.0 C217.7,406.9 218.2,407.8 218.7,408.6 C219.2,409.5 219.7,410.4 220.1,411.3 C220.6,412.1 221.0,413.0 221.4,413.9 C221.9,414.9 222.2,415.8 222.6,416.7 C223.0,417.6 223.3,418.6 223.7,419.5 C224.0,420.4 224.4,421.4 224.7,422.3 C225.0,423.3 225.4,424.2 225.7,425.1 C226.1,426.1 226.4,427.0 226.7,428.0 C227.1,428.9 227.4,429.8 227.7,430.8 C228.1,431.7 228.4,432.7 228.8,433.6 C229.1,434.6 229.4,435.5 229.8,436.4 C230.1,437.4 230.4,438.3 230.8,439.3 C231.1,440.2 231.5,441.1 231.8,442.1 C232.1,443.0 232.5,444.0 232.8,444.9 C233.1,445.8 233.5,446.8 233.8,447.7 C234.2,448.7 234.5,449.6 234.8,450.6 C235.2,451.5 235.5,452.4 235.8,453.4 C236.2,454.3 236.5,455.3 236.9,456.2 C237.2,457.1 237.5,458.1 237.9,459.0 C238.2,460.0 238.6,460.9 238.9,461.8 C239.3,462.8 239.6,463.7 240.0,464.6 C240.4,465.6 240.7,466.5 241.1,467.4 C241.5,468.3 241.9,469.3 242.3,470.2 C242.7,471.1 243.0,472.0 243.5,472.9 C243.9,473.8 244.3,474.8 244.7,475.6 C245.1,476.5 245.6,477.4 246.1,478.3 C246.5,479.2 247.0,480.1 247.5,480.9 C248.0,481.8 248.6,482.6 249.1,483.4 C249.7,484.3 250.2,485.1 250.8,485.9 C251.4,486.7 252.0,487.4 252.7,488.2 C253.3,489.0 254.0,489.7 254.6,490.5 C255.3,491.2 256.0,491.9 256.7,492.6 C257.3,493.4 258.0,494.1 258.7,494.8 C259.5,495.5 260.2,496.2 260.9,496.9 C261.6,497.5 262.3,498.2 263.1,498.9 C263.8,499.6 264.6,500.2 265.3,500.9 C266.1,501.5 266.8,502.2 267.6,502.8 C268.4,503.4 269.2,504.0 269.9,504.6 C270.7,505.2 271.5,505.8 272.4,506.4 C273.2,507.0 274.0,507.5 274.8,508.1 C275.6,508.7 276.5,509.2 277.3,509.7 C278.1,510.3 279.0,510.8 279.8,511.3 C280.7,511.9 281.5,512.4 282.4,512.9 C283.2,513.5 284.1,514.0 284.9,514.5 C285.8,515.0 286.6,515.6 287.5,516.1 C288.3,516.6 289.2,517.1 290.0,517.7 C290.9,518.2 291.7,518.7 292.6,519.3 C293.4,519.8 294.2,520.4 295.1,520.9 C295.9,521.4 296.8,522.0 297.6,522.5 C298.5,523.0 299.3,523.6 300.2,524.1 C301.0,524.6 301.9,525.1 302.7,525.7 C303.6,526.2 304.4,526.7 305.3,527.2 C306.2,527.7 307.0,528.2 307.9,528.7 C308.8,529.2 309.6,529.6 310.5,530.1 C311.4,530.6 312.3,531.1 313.2,531.5 C314.1,532.0 314.9,532.4 315.8,532.9 C316.7,533.3 317.6,533.8 318.5,534.2 C319.4,534.6 320.3,535.1 321.2,535.5 C322.1,535.9 323.0,536.4 323.9,536.8 C324.9,537.2 325.8,537.6 326.7,538.0 C327.6,538.4 328.5,538.8 329.4,539.2 C330.4,539.6 331.3,540.0 332.2,540.3 C333.1,540.7 334.0,541.1 335.0,541.5 C335.9,541.8 336.8,542.2 337.8,542.5 C338.7,542.9 339.6,543.3 340.6,543.6 C341.5,544.0 342.4,544.3 343.4,544.6 C344.3,545.0 345.3,545.3 346.2,545.6 C347.2,546.0 348.1,546.3 349.1,546.6 C350.0,546.9 350.9,547.3 351.9,547.6 C352.8,547.9 353.8,548.2 354.7,548.5 C355.7,548.8 356.6,549.1 357.6,549.4 C358.5,549.7 359.5,550.1 360.4,550.4 C361.4,550.7 362.4,551.0 363.3,551.3 C364.3,551.6 365.2,551.9 366.2,552.2 C367.1,552.5 368.0,552.8 369.0,553.2 C369.9,553.5 370.9,553.8 371.8,554.1 C372.8,554.5 373.7,554.8 374.7,555.1 C375.6,555.5 376.5,555.8 377.5,556.2 C378.4,556.5 379.3,556.9 380.3,557.2 C381.2,557.6 382.1,558.0 383.0,558.4 C384.0,558.8 384.9,559.2 385.8,559.6 C386.7,560.0 387.6,560.4 388.5,560.8 C389.4,561.2 390.3,561.6 391.2,562.1 C392.1,562.5 393.0,563.0 393.9,563.4 C394.8,563.9 395.7,564.3 396.5,564.8 C397.4,565.3 398.3,565.8 399.1,566.3 C400.0,566.8 400.9,567.3 401.7,567.8 C402.5,568.3 403.4,568.9 404.2,569.4 C405.1,570.0 405.9,570.5 406.7,571.1 C407.5,571.6 408.3,572.2 409.2,572.8 C410.0,573.4 410.8,573.9 411.6,574.5 C412.4,575.1 413.2,575.7 414.0,576.3 C414.8,576.9 415.6,577.5 416.4,578.1 C417.2,578.7 418.0,579.3 418.8,579.9 C419.6,580.5 420.4,581.1 421.2,581.7 C422.0,582.4 422.7,583.0 423.5,583.6 C424.3,584.3 425.0,584.9 425.8,585.6 C426.5,586.2 427.3,586.9 428.0,587.5 C428.8,588.2 429.5,588.9 430.3,589.5 C431.0,590.2 431.8,590.9 432.5,591.5 C433.2,592.2 434.0,592.9 434.7,593.6 C435.4,594.3 436.2,594.9 436.9,595.6 C437.6,596.3 438.3,597.0 439.0,597.7 C439.7,598.4 440.4,599.1 441.1,599.9 C441.7,600.6 442.4,601.3 443.0,602.1 C443.7,602.9 444.3,603.6 444.9,604.4 C445.5,605.2 446.1,606.0 446.7,606.8 C447.2,607.6 447.8,608.4 448.4,609.2 C448.9,610.1 449.4,610.9 450.0,611.8 C450.5,612.6 451.0,613.4 451.6,614.3 C452.1,615.1 452.6,616.0 453.1,616.8 C453.6,617.7 454.2,618.6 454.7,619.4 C455.2,620.3 455.7,621.1 456.2,622.0 C456.7,622.8 457.3,623.7 457.8,624.6 C458.3,625.4 458.8,626.3 459.3,627.1 C459.8,628.0 460.3,628.8 460.9,629.7 C461.4,630.6 461.9,631.4 462.4,632.3 C462.9,633.1 463.4,634.0 463.9,634.9 C464.4,635.7 464.9,636.6 465.4,637.4 C465.9,638.3 466.4,639.2 466.9,640.0 C467.4,640.9 467.9,641.8 468.4,642.6 C468.9,643.5 469.4,644.4 469.9,645.3 C470.3,646.2 470.8,647.0 471.3,647.9 C471.7,648.8 472.2,649.7 472.6,650.6 C473.1,651.5 473.6,652.4 474.0,653.3 C474.5,654.2 474.9,655.0 475.3,655.9 C475.8,656.8 476.2,657.7 476.7,658.6 C477.1,659.5 477.6,660.4 478.0,661.3 C478.5,662.2 478.9,663.1 479.4,664.0 C479.8,664.9 480.3,665.8 480.7,666.7 C481.1,667.6 481.6,668.5 482.0,669.4 C482.5,670.3 482.9,671.2 483.4,672.0 C483.8,672.9 484.3,673.8 484.7,674.7 C485.2,675.6 485.6,676.5 486.1,677.4 C486.5,678.3 487.0,679.2 487.4,680.1 C487.8,681.0 488.3,681.9 488.7,682.8 C489.2,683.7 489.6,684.6 490.1,685.5 C490.5,686.4 491.0,687.3 491.4,688.1 C491.9,689.0 492.3,689.9 492.8,690.8 C493.2,691.7 493.7,692.6 494.1,693.5 C494.6,694.4 495.0,695.3 495.5,696.2 C495.9,697.1 496.4,698.0 496.8,698.9 C497.3,699.8 497.7,700.7 498.2,701.5 C498.6,702.4 499.1,703.3 499.5,704.2 C500.0,705.1 500.4,706.0 500.9,706.9 C501.3,707.8 501.8,708.7 502.2,709.6 C502.7,710.5 503.1,711.4 503.6,712.3 C504.0,713.1 504.5,714.0 504.9,714.9 C505.4,715.8 505.8,716.7 506.3,717.6 C506.7,718.5 507.1,719.4 507.6,720.3 C508.0,721.2 508.4,722.1 508.9,723.0 C509.3,723.9 509.7,724.8 510.2,725.7 C510.6,726.6 511.0,727.5 511.5,728.4 C511.9,729.3 512.3,730.2 512.7,731.2 C513.2,732.1 513.6,733.0 514.0,733.9 C514.5,734.8 514.9,735.7 515.3,736.6 C515.8,737.5 516.2,738.4 516.6,739.3 C517.0,740.2 517.5,741.1 517.9,742.0 C518.3,742.9 518.8,743.8 519.2,744.7 C519.6,745.6 520.0,746.5 520.5,747.4 C520.9,748.3 521.3,749.2 521.7,750.1 C522.1,751.0 522.5,751.9 523.0,752.9 C523.4,753.8 523.8,754.7 524.2,755.6 C524.6,756.5 525.0,757.4 525.4,758.3 C525.8,759.2 526.2,760.1 526.7,761.1 C527.1,762.0 527.5,762.9 527.9,763.8 C528.3,764.7 528.7,765.6 529.2,766.5 C529.6,767.4 530.0,768.3 530.4,769.2 C530.9,770.1 531.3,771.0 531.7,771.9 C532.2,772.8 532.6,773.7 533.0,774.6 C533.5,775.5 533.9,776.4 534.4,777.3 C534.8,778.2 535.3,779.1 535.7,780.0 C536.2,780.9 536.7,781.8 537.1,782.6 C537.6,783.5 538.1,784.4 538.5,785.3 C539.0,786.2 539.5,787.0 540.0,787.9 C540.5,788.8 541.0,789.7 541.5,790.5 C542.0,791.4 542.5,792.2 543.0,793.1 C543.5,794.0 544.0,794.8 544.6,795.7 C545.1,796.5 545.6,797.4 546.2,798.2 C546.7,799.0 547.2,799.9 547.8,800.7 C548.3,801.5 548.9,802.4 549.5,803.2 C550.0,804.0 550.6,804.8 551.2,805.7 C551.7,806.5 552.3,807.3 552.9,808.1 C553.4,809.0 554.0,809.8 554.6,810.6 C555.1,811.4 555.7,812.2 556.3,813.1 C556.9,813.9 557.4,814.7 558.0,815.5 C558.6,816.3 559.2,817.1 559.7,818.0 C560.3,818.8 560.9,819.6 561.5,820.4 C562.0,821.2 562.6,822.0 563.2,822.9 C563.8,823.7 564.4,824.5 564.9,825.3 C565.5,826.1 566.1,826.9 566.7,827.8 C567.3,828.6 567.8,829.4 568.4,830.2 C569.0,831.0 569.6,831.8 570.2,832.6 C570.8,833.4 571.4,834.2 572.0,835.0 C572.6,835.8 573.2,836.6 573.8,837.4 C574.5,838.2 575.1,838.9 575.7,839.7 C576.3,840.5 577.0,841.3 577.6,842.1 C578.2,842.8 578.9,843.6 579.5,844.4 C580.1,845.1 580.8,845.9 581.4,846.7 C582.1,847.4 582.7,848.2 583.4,848.9 C584.0,849.7 584.7,850.5 585.3,851.2 C586.0,852.0 586.7,852.7 587.3,853.4 C588.0,854.2 588.7,854.9 589.3,855.7 C590.0,856.4 590.7,857.2 591.4,857.9 C592.0,858.6 592.7,859.4 593.4,860.1 C594.1,860.8 594.8,861.5 595.5,862.3 C596.2,863.0 596.9,863.7 597.5,864.4 C598.2,865.1 598.9,865.9 599.6,866.6 C600.3,867.3 601.0,868.0 601.7,868.7 C602.4,869.4 603.1,870.2 603.8,870.9 C604.5,871.6 605.2,872.3 605.9,873.0 C606.6,873.7 607.3,874.4 608.1,875.1 C608.8,875.8 609.5,876.5 610.2,877.2 C610.9,877.9 611.7,878.6 612.4,879.3 C613.1,879.9 613.9,880.6 614.6,881.3 C615.3,882.0 616.1,882.6 616.8,883.3 C617.6,883.9 618.4,884.6 619.1,885.2 C619.9,885.9 620.6,886.5 621.4,887.1 C622.2,887.8 623.0,888.4 623.7,889.0 C624.5,889.7 625.3,890.3 626.1,890.9 C626.9,891.5 627.7,892.1 628.5,892.7 C629.2,893.3 630.0,893.9 630.8,894.5 C631.7,895.1 632.5,895.7 633.3,896.3 C634.1,896.9 634.9,897.5 635.7,898.1 C636.5,898.7 637.3,899.2 638.1,899.8 C639.0,900.4 639.8,901.0 640.6,901.5 C641.4,902.1 642.3,902.7 643.1,903.2 C643.9,903.8 644.7,904.3 645.6,904.9 C646.4,905.4 647.2,906.0 648.1,906.5 C648.9,907.1 649.8,907.6 650.6,908.1 C651.4,908.7 652.3,909.2 653.1,909.7 C654.0,910.3 654.8,910.8 655.7,911.3 C656.5,911.9 657.4,912.4 658.2,912.9 C659.1,913.5 659.9,914.0 660.8,914.5 C661.6,915.1 662.5,915.6 663.3,916.1 C664.1,916.7 665.0,917.2 665.8,917.7 C666.7,918.2 667.5,918.8 668.4,919.3 C669.2,919.8 670.1,920.4 670.9,920.9 C671.8,921.4 672.6,921.9 673.5,922.5 C674.3,923.0 675.2,923.5 676.0,924.0 C676.9,924.6 677.8,925.1 678.6,925.6 C679.5,926.1 680.3,926.6 681.2,927.1 C682.1,927.6 682.9,928.1 683.8,928.6 C684.7,929.1 685.5,929.6 686.4,930.1 C687.3,930.6 688.1,931.1 689.0,931.5 C689.9,932.0 690.8,932.5 691.7,932.9 C692.6,933.4 693.4,933.9 694.3,934.3 C695.2,934.8 696.1,935.2 697.0,935.7 C697.9,936.1 698.8,936.5 699.7,937.0 C700.6,937.4 701.5,937.8 702.4,938.2 C703.3,938.6 704.3,939.0 705.2,939.4 C706.1,939.8 707.0,940.2 707.9,940.6 C708.8,941.0 709.8,941.4 710.7,941.7 C711.6,942.1 712.5,942.5 713.5,942.9 C714.4,943.3 715.3,943.6 716.3,944.0 C717.2,944.4 718.1,944.7 719.0,945.1 C720.0,945.5 720.9,945.9 721.8,946.2 C722.8,946.6 723.7,947.0 724.6,947.3 C725.5,947.7 726.5,948.1 727.4,948.5 C728.3,948.8 729.3,949.2 730.2,949.6 C731.1,949.9 732.0,950.3 733.0,950.7 C733.9,951.1 734.8,951.4 735.8,951.8 C736.7,952.2 737.6,952.5 738.5,952.9 C739.5,953.3 740.4,953.6 741.3,954.0 C742.3,954.4 743.2,954.7 744.1,955.1 C745.0,955.5 746.0,955.9 746.9,956.2 C747.8,956.6 748.8,957.0 749.7,957.3 C750.6,957.7 751.6,958.0 752.5,958.4 C753.4,958.8 754.4,959.1 755.3,959.5 C756.2,959.8 757.2,960.2 758.1,960.5 C759.1,960.9 760.0,961.2 760.9,961.5 C761.9,961.9 762.8,962.2 763.7,962.6 C764.7,962.9 765.6,963.2 766.6,963.6 C767.5,963.9 768.5,964.2 769.4,964.6 C770.3,964.9 771.3,965.2 772.2,965.6 C773.2,965.9 774.1,966.2 775.1,966.6 C776.0,966.9 777.0,967.2 777.9,967.5 C778.8,967.9 779.8,968.2 780.7,968.5 C781.7,968.8 782.6,969.1 783.6,969.4 C784.5,969.8 785.5,970.1 786.4,970.4 C787.4,970.7 788.3,971.0 789.3,971.3 C790.3,971.6 791.2,971.9 792.2,972.2 C793.1,972.5 794.1,972.7 795.0,973.0 C796.0,973.3 796.9,973.6 797.9,973.9 C798.9,974.2 799.8,974.5 800.8,974.8 C801.7,975.0 802.7,975.3 803.7,975.6 C804.6,975.9 805.6,976.2 806.5,976.4 C807.5,976.7 808.5,977.0 809.4,977.3 C810.4,977.5 811.3,977.8 812.3,978.1 C813.3,978.3 814.2,978.6 815.2,978.9 C816.2,979.1 817.1,979.4 818.1,979.6 C819.1,979.9 820.0,980.1 821.0,980.4 C822.0,980.6 823.0,980.9 823.9,981.1 C824.9,981.4 825.9,981.6 826.8,981.8 C827.8,982.1 828.8,982.3 829.7,982.6 C830.7,982.8 831.7,983.0 832.7,983.3 C833.6,983.5 834.6,983.7 835.6,984.0 C836.5,984.2 837.5,984.4 838.5,984.7 C839.5,984.9 840.4,985.1 841.4,985.4 C842.4,985.6 843.4,985.8 844.3,986.0 C845.3,986.3 846.3,986.5 847.3,986.7 C848.2,986.9 849.2,987.1 850.2,987.3 C851.2,987.5 852.1,987.7 853.1,988.0 C854.1,988.2 855.1,988.4 856.1,988.6 C857.0,988.8 858.0,989.0 859.0,989.1 C860.0,989.3 861.0,989.5 861.9,989.7 C862.9,989.9 863.9,990.1 864.9,990.2 C865.9,990.4 866.9,990.6 867.9,990.8 C868.8,990.9 869.8,991.1 870.8,991.3 C871.8,991.5 872.8,991.6 873.8,991.8 C874.8,991.9 875.7,992.1 876.7,992.3 C877.7,992.4 878.7,992.6 879.7,992.8 C880.7,992.9 881.7,993.1 882.6,993.3 C883.6,993.4 884.6,993.6 885.6,993.8 C886.6,993.9 887.6,994.1 888.6,994.3 C889.5,994.4 890.5,994.6 891.5,994.7 C892.5,994.9 893.5,995.1 894.5,995.2 C895.5,995.4 896.5,995.6 897.4,995.7 C898.4,995.9 899.4,996.0 900.4,996.2 C901.4,996.4 902.4,996.5 903.4,996.7 C904.3,996.8 905.3,997.0 906.3,997.2 C907.3,997.3 908.3,997.5 909.3,997.6 C910.3,997.8 911.3,997.9 912.3,998.1 C913.2,998.2 914.2,998.3 915.2,998.5 C916.2,998.6 917.2,998.8 918.2,998.9 C919.2,999.0 920.2,999.2 921.2,999.3 C922.2,999.4 923.1,999.6 924.1,999.7 C925.1,999.8 926.1,1000.0 927.1,1000.1 C928.1,1000.2 929.1,1000.4 930.1,1000.5 C931.1,1000.6 932.1,1000.8 933.1,1000.9 C934.1,1001.0 935.0,1001.2 936.0,1001.3 C937.0,1001.4 938.0,1001.6 939.0,1001.7 C940.0,1001.8 941.0,1001.9 942.0,1002.1 C943.0,1002.2 944.0,1002.3 945.0,1002.5 C945.9,1002.6 946.9,1002.7 947.9,1002.9 C948.9,1003.0 949.9,1003.1 950.9,1003.2 C951.9,1003.4 952.9,1003.5 953.9,1003.6 C954.9,1003.8 955.9,1003.9 956.9,1004.0 C957.9,1004.1 958.8,1004.2 959.8,1004.4 C960.8,1004.5 961.8,1004.6 962.8,1004.7 C963.8,1004.8 964.8,1004.9 965.8,1005.0 C966.8,1005.2 967.8,1005.3 968.8,1005.4 C969.8,1005.5 970.8,1005.6 971.8,1005.7 C972.8,1005.8 973.8,1005.9 974.7,1006.0 C975.7,1006.1 976.7,1006.2 977.7,1006.3 C978.7,1006.4 979.7,1006.5 980.7,1006.6 C981.7,1006.7 982.7,1006.8 983.7,1006.9 C984.7,1007.0 985.7,1007.1 986.7,1007.2 C987.7,1007.3 988.7,1007.4 989.7,1007.5 C990.7,1007.6 991.7,1007.7 992.7,1007.8 C993.6,1007.9 994.6,1008.0 995.6,1008.1 C996.6,1008.2 997.6,1008.3 998.6,1008.4 C999.6,1008.5 1000.6,1008.6 1001.6,1008.7 C1002.6,1008.8 1003.6,1008.9 1004.6,1009.0 C1005.6,1009.1 1006.6,1009.2 1007.6,1009.2 C1008.6,1009.3 1009.6,1009.4 1010.6,1009.5 C1011.6,1009.6 1012.6,1009.7 1013.6,1009.8 C1014.6,1009.8 1015.6,1009.9 1016.6,1010.0 C1017.5,1010.1 1018.5,1010.1 1019.5,1010.2 C1020.5,1010.3 1021.5,1010.3 1022.5,1010.4 C1023.5,1010.5 1024.5,1010.5 1025.5,1010.6 C1026.5,1010.7 1027.5,1010.7 1028.5,1010.8 C1029.5,1010.9 1030.5,1010.9 1031.5,1011.0 C1032.5,1011.1 1033.5,1011.1 1034.5,1011.2 C1035.5,1011.3 1036.5,1011.3 1037.5,1011.4 C1038.5,1011.5 1039.5,1011.5 1040.5,1011.6 C1041.5,1011.7 1042.5,1011.7 1043.5,1011.8 C1044.5,1011.9 1045.5,1011.9 1046.5,1012.0 C1047.5,1012.1 1048.5,1012.1 1049.5,1012.2 C1050.5,1012.2 1051.5,1012.3 1052.5,1012.4 C1053.5,1012.4 1054.5,1012.5 1055.5,1012.6 C1056.5,1012.6 1057.5,1012.7 1058.5,1012.8 C1059.5,1012.8 1060.5,1012.9 1061.5,1013.0 C1062.4,1013.0 1063.4,1013.1 1064.4,1013.2 C1065.4,1013.3 1066.4,1013.3 1067.4,1013.4 C1068.4,1013.5 1069.4,1013.5 1070.4,1013.6 C1071.4,1013.7 1072.4,1013.7 1073.4,1013.8 C1074.4,1013.9 1075.4,1013.9 1076.4,1014.0 C1077.4,1014.1 1078.4,1014.2 1079.4,1014.2 C1080.4,1014.3 1081.4,1014.4 1082.4,1014.4 C1083.4,1014.5 1084.4,1014.6 1085.4,1014.6 C1086.4,1014.7 1087.4,1014.8 1088.4,1014.8 C1089.4,1014.9 1090.4,1015.0 1091.4,1015.0 C1092.4,1015.1 1093.4,1015.1 1094.4,1015.2 C1095.4,1015.3 1096.4,1015.3 1097.4,1015.4 C1098.4,1015.4 1099.4,1015.4 1100.4,1015.5 C1101.4,1015.5 1102.4,1015.6 1103.4,1015.6 C1104.4,1015.6 1105.4,1015.7 1106.4,1015.7 C1107.4,1015.7 1108.4,1015.7 1109.4,1015.8 C1110.4,1015.8 1111.4,1015.8 1112.4,1015.8 C1113.4,1015.8 1114.4,1015.8 1115.4,1015.9 C1116.4,1015.9 1117.4,1015.9 1118.4,1015.9 C1119.4,1015.9 1120.4,1016.0 1121.4,1016.0 C1122.4,1016.0 1123.4,1016.0 1124.4,1016.0 C1125.4,1016.0 1126.4,1016.1 1127.4,1016.1 C1128.4,1016.1 1129.4,1016.1 1130.4,1016.1 C1131.4,1016.2 1132.4,1016.2 1133.4,1016.2 C1134.4,1016.2 1135.4,1016.3 1136.4,1016.3 C1137.4,1016.3 1138.4,1016.4 1139.4,1016.4 C1140.4,1016.4 1141.3,1016.5 1142.3,1016.5 C1143.3,1016.5 1144.3,1016.6 1145.3,1016.6 C1146.3,1016.6 1147.3,1016.7 1148.3,1016.7 C1149.3,1016.8 1150.3,1016.8 1151.3,1016.8 C1152.3,1016.9 1153.3,1016.9 1154.3,1017.0 C1155.3,1017.0 1156.3,1017.0 1157.3,1017.1 C1158.3,1017.1 1159.3,1017.2 1160.3,1017.2 C1161.3,1017.2 1162.3,1017.3 1163.3,1017.3 C1164.3,1017.4 1165.3,1017.4 1166.3,1017.4 C1167.3,1017.5 1168.3,1017.5 1169.3,1017.6 C1170.3,1017.6 1171.3,1017.6 1172.3,1017.7 C1173.3,1017.7 1174.3,1017.8 1175.3,1017.8 C1176.3,1017.8 1177.3,1017.9 1178.3,1017.9 C1179.3,1018.0 1180.3,1018.0 1181.3,1018.1 C1182.3,1018.1 1183.3,1018.1 1184.3,1018.2 C1185.3,1018.2 1186.3,1018.3 1187.3,1018.3 C1188.3,1018.4 1189.3,1018.4 1190.3,1018.5 C1191.3,1018.5 1192.3,1018.6 1193.3,1018.6 C1194.3,1018.7 1195.3,1018.7 1196.3,1018.8 C1197.3,1018.8 1198.3,1018.9 1199.3,1018.9 C1200.3,1019.0 1201.3,1019.0 1202.3,1019.1 C1203.3,1019.1 1204.3,1019.2 1205.3,1019.2 C1206.3,1019.3 1207.3,1019.3 1208.3,1019.4 C1209.3,1019.4 1210.3,1019.5 1211.3,1019.5 C1212.3,1019.6 1213.3,1019.6 1214.3,1019.7 C1215.3,1019.7 1216.3,1019.8 1217.3,1019.8 C1218.3,1019.9 1219.3,1019.9 1220.3,1020.0 C1221.3,1020.0 1222.3,1020.1 1223.3,1020.1 C1224.3,1020.2 1225.3,1020.2 1226.3,1020.3 C1227.3,1020.3 1228.3,1020.4 1229.3,1020.4 C1230.3,1020.5 1231.3,1020.5 1232.3,1020.6 C1233.3,1020.6 1234.3,1020.7 1235.3,1020.7 C1236.2,1020.8 1237.2,1020.8 1238.2,1020.9 C1239.2,1020.9 1240.2,1021.0 1241.2,1021.0 C1242.2,1021.1 1243.2,1021.1 1244.2,1021.2 C1245.2,1021.2 1246.2,1021.3 1247.2,1021.3 C1248.2,1021.4 1249.2,1021.4 1250.2,1021.5 C1251.2,1021.5 1252.2,1021.6 1253.2,1021.6 C1254.2,1021.7 1255.2,1021.7 1256.2,1021.8 C1257.2,1021.8 1258.2,1021.9 1259.2,1021.9 C1260.2,1022.0 1261.2,1022.0 1262.2,1022.1 C1263.2,1022.1 1264.2,1022.2 1265.2,1022.2 C1266.2,1022.3 1267.2,1022.3 1268.2,1022.4 C1269.2,1022.4 1270.2,1022.5 1271.2,1022.5 C1272.2,1022.6 1273.2,1022.6 1274.2,1022.7 C1275.2,1022.7 1276.2,1022.8 1277.2,1022.8 C1278.2,1022.9 1279.2,1022.9 1280.2,1023.0 C1281.2,1023.0 1282.2,1023.1 1283.2,1023.1 C1284.2,1023.2 1285.2,1023.2 1286.2,1023.3 C1287.2,1023.3 1288.2,1023.4 1289.2,1023.4 C1290.2,1023.5 1291.2,1023.5 1292.2,1023.6 C1293.2,1023.6 1294.2,1023.7 1295.2,1023.7 C1296.2,1023.8 1297.2,1023.8 1298.2,1023.9 C1299.2,1023.9 1300.2,1024.0 1301.2,1024.0 C1302.2,1024.1 1303.2,1024.1 1304.2,1024.2 C1305.2,1024.2 1306.2,1024.3 1307.2,1024.3 C1308.2,1024.4 1309.2,1024.5 1310.2,1024.5 C1311.2,1024.6 1312.2,1024.6 1313.2,1024.6 C1314.2,1024.7 1315.1,1024.7 1316.1,1024.8 C1317.1,1024.8 1318.1,1024.9 1319.1,1024.9 C1320.1,1025.0 1321.1,1025.0 1322.1,1025.1 C1323.1,1025.1 1324.1,1025.2 1325.1,1025.2 C1326.1,1025.3 1327.1,1025.3 1328.1,1025.4 C1329.1,1025.4 1330.1,1025.4 1331.1,1025.5 C1332.1,1025.5 1333.1,1025.6 1334.1,1025.6 C1335.1,1025.6 1336.1,1025.7 1337.1,1025.7 C1338.1,1025.8 1339.1,1025.8 1340.1,1025.8 C1341.1,1025.9 1342.1,1025.9 1343.1,1025.9 C1344.1,1026.0 1345.1,1026.0 1346.1,1026.1 C1347.1,1026.1 1348.1,1026.1 1349.1,1026.2 C1350.1,1026.2 1351.1,1026.2 1352.1,1026.3 C1353.1,1026.3 1354.1,1026.4 1355.1,1026.4 C1356.0,1026.4 1357.0,1026.5 1358.0,1026.5 C1359.0,1026.5 1359.9,1026.6 1360.9,1026.6 C1361.9,1026.7 1362.9,1026.7 1363.8,1026.7 C1364.8,1026.8 1365.8,1026.8 1366.9,1026.8 C1367.9,1026.9 1369.6,1026.9 1370.1,1027.0 C1370.6,1027.0 1370.1,1027.0 1370.1,1027.0" stroke="#026AB2"/>

</g>
<text x="251.1" y="1116" text-anchor="middle" class="tl">400</text><text x="531.6" y="1116" text-anchor="middle" class="tl">500</text><text x="812.2" y="1116" text-anchor="middle" class="tl">600</text><text x="1092.7" y="1116" text-anchor="middle" class="tl">700</text><text x="1373.3" y="1116" text-anchor="middle" class="tl">800</text>
<text x="508.5" y="1213" class="ax" style="font-size:63.2px">Wavelength (nm)</text>
<text transform="translate(62,782.5) rotate(-90)" x="0" y="0" class="ax" style="font-size:62.7px">Absorbance (a.u.)</text>
<line x1="801" y1="198" x2="919" y2="198" stroke="#737373" stroke-width="6" stroke-linecap="round"/><text x="932.8" y="217" fill="#000" class="lg">S-C<tspan class="sub" dy="14">3</tspan><tspan dy="-14">N</tspan><tspan class="sub" dy="14">4</tspan></text>
<line x1="801" y1="277" x2="919" y2="277" stroke="#009400" stroke-width="6" stroke-linecap="round"/><text x="932.8" y="296" fill="#009400" class="lg">CdS</text>
<line x1="801" y1="343" x2="919" y2="343" stroke="#8000E2" stroke-width="6" stroke-linecap="round"/><text x="932.8" y="361" fill="#BE00C8" class="lg">AgCdS</text>
<line x1="801" y1="409" x2="919" y2="409" stroke="#FF7070" stroke-width="6" stroke-linecap="round"/><text x="932.8" y="427" fill="#FF7070" class="lg">S-C<tspan class="sub" dy="14">3</tspan><tspan dy="-14">N</tspan><tspan class="sub" dy="14">4</tspan><tspan dy="-14">/CdS</tspan></text>
<line x1="801" y1="487" x2="919" y2="487" stroke="#026AB2" stroke-width="6" stroke-linecap="round"/><text x="932.8" y="505" fill="#026AB2" class="lg">S-C<tspan class="sub" dy="14">3</tspan><tspan dy="-14">N</tspan><tspan class="sub" dy="14">4</tspan><tspan dy="-14">/AgCdS</tspan></text>

</g>
</svg>
</body></html>
